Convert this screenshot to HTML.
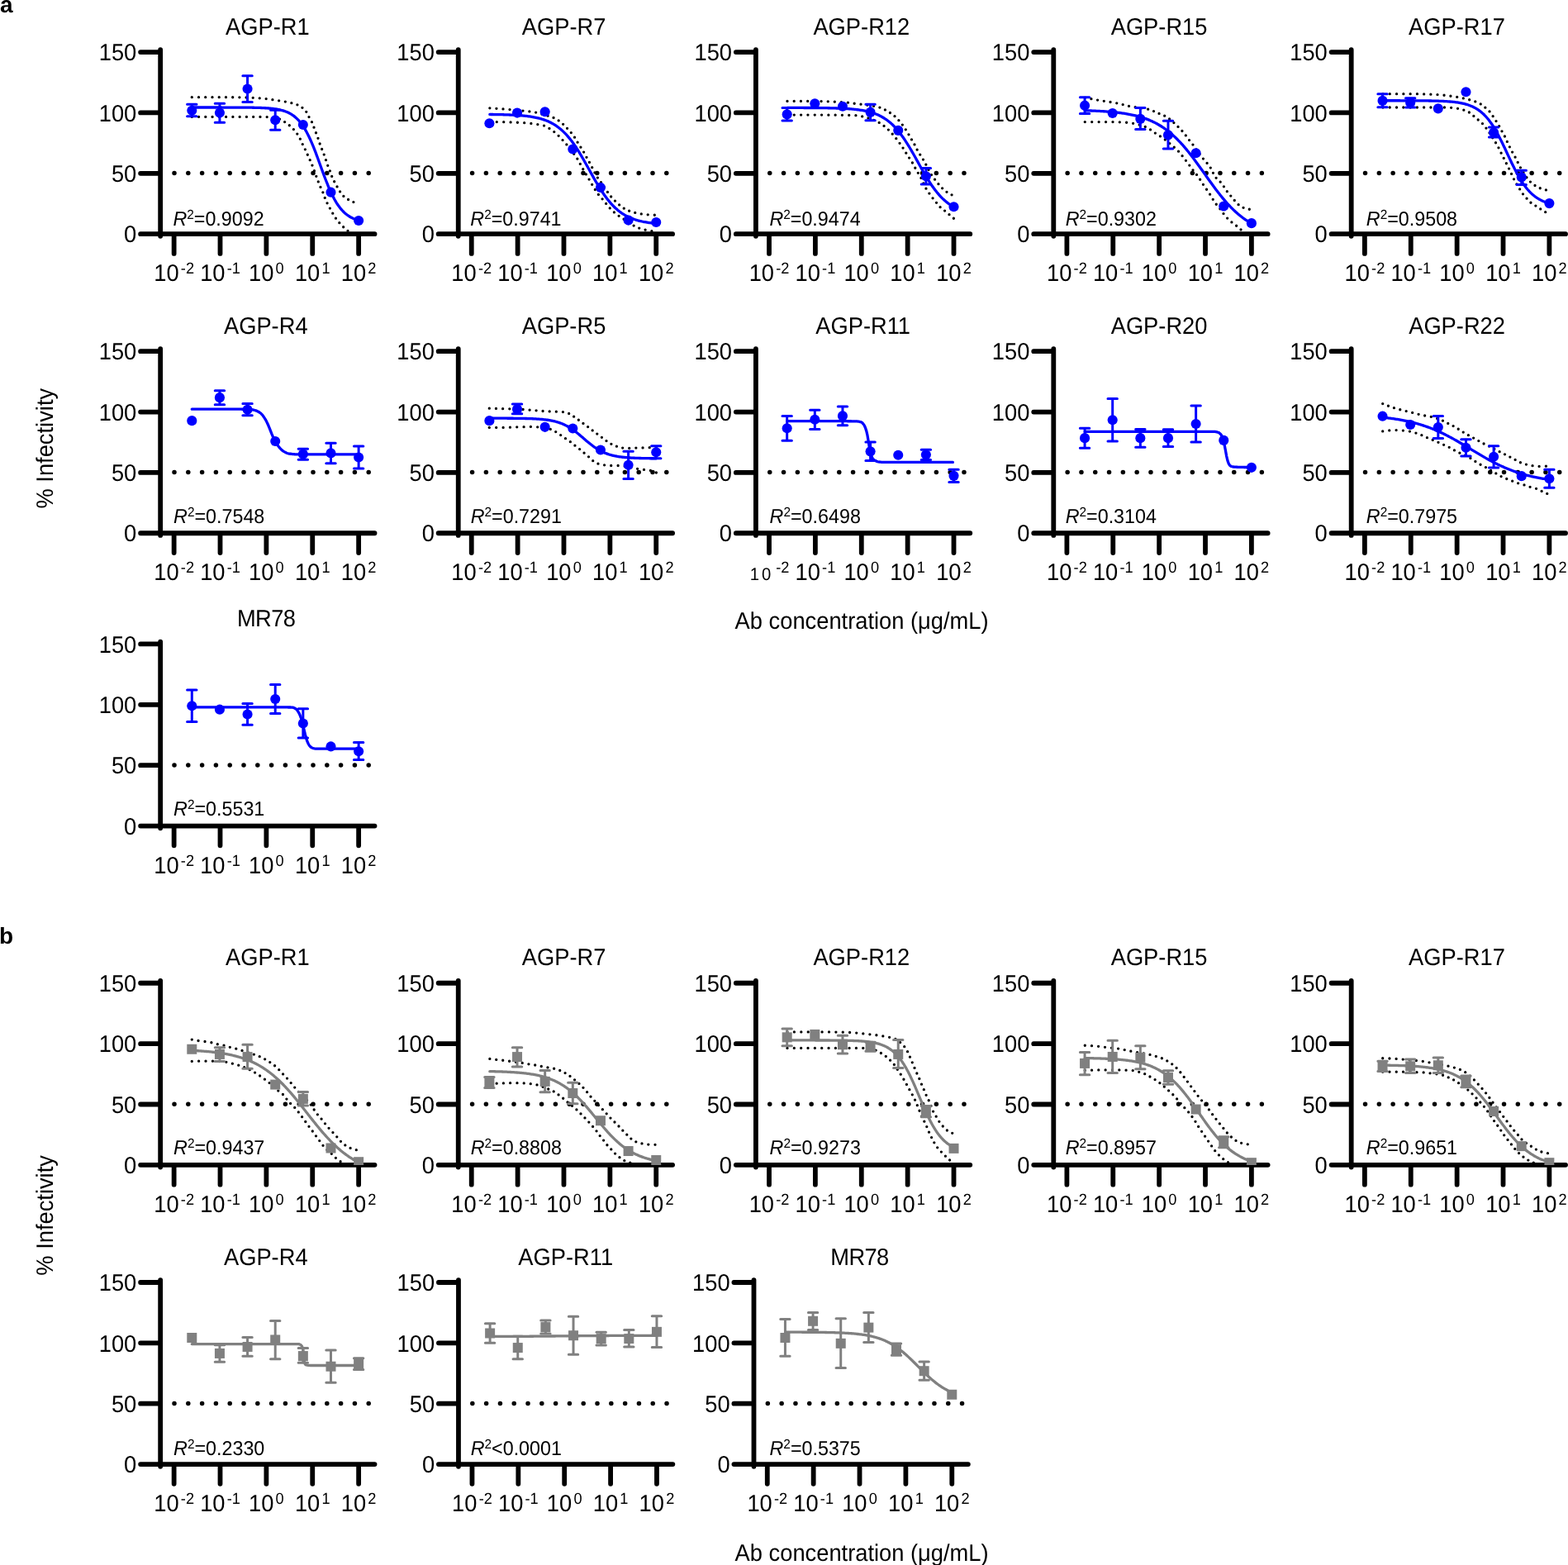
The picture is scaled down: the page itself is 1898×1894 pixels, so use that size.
<!DOCTYPE html>
<html lang="en">
<head>
<meta charset="utf-8">
<title>Neutralization curves</title>
<style>html,body{margin:0;padding:0;background:#fff}body{width:1898px;height:1894px;overflow:hidden}svg{display:block}text{font-family:'Liberation Sans', Arial, Helvetica, sans-serif;white-space:pre;text-rendering:geometricPrecision}</style>
</head>
<body>
<svg xmlns="http://www.w3.org/2000/svg" width="1898" height="1894" viewBox="0 0 1898 1894" font-family="'Liberation Sans', Arial, Helvetica, sans-serif" fill="#000">
<rect width="1898" height="1894" fill="#fff"/>
<defs>
<clipPath id="cp0_0"><rect x="194.16" y="53.17" width="280" height="230.1"/></clipPath>
<clipPath id="cp1_0"><rect x="554.74" y="53.17" width="280" height="230.1"/></clipPath>
<clipPath id="cp2_0"><rect x="914.92" y="53.17" width="280" height="230.1"/></clipPath>
<clipPath id="cp3_0"><rect x="1275.3" y="53.17" width="280" height="230.1"/></clipPath>
<clipPath id="cp4_0"><rect x="1635.68" y="53.17" width="280" height="230.1"/></clipPath>
<clipPath id="cp0_1"><rect x="194.16" y="415.26" width="280" height="230.1"/></clipPath>
<clipPath id="cp1_1"><rect x="554.74" y="415.26" width="280" height="230.1"/></clipPath>
<clipPath id="cp2_1"><rect x="914.92" y="415.26" width="280" height="230.1"/></clipPath>
<clipPath id="cp3_1"><rect x="1275.3" y="415.26" width="280" height="230.1"/></clipPath>
<clipPath id="cp4_1"><rect x="1635.68" y="415.26" width="280" height="230.1"/></clipPath>
<clipPath id="cp0_2"><rect x="194.16" y="769.56" width="280" height="230.1"/></clipPath>
<clipPath id="cp0_3"><rect x="194.16" y="1179.87" width="280" height="230.1"/></clipPath>
<clipPath id="cp1_3"><rect x="554.74" y="1179.87" width="280" height="230.1"/></clipPath>
<clipPath id="cp2_3"><rect x="914.92" y="1179.87" width="280" height="230.1"/></clipPath>
<clipPath id="cp3_3"><rect x="1275.3" y="1179.87" width="280" height="230.1"/></clipPath>
<clipPath id="cp4_3"><rect x="1635.68" y="1179.87" width="280" height="230.1"/></clipPath>
<clipPath id="cp0_4"><rect x="194.16" y="1542.09" width="280" height="230.1"/></clipPath>
<clipPath id="cp1_4"><rect x="554.98" y="1542.09" width="280" height="230.1"/></clipPath>
<clipPath id="cp2_4"><rect x="912.5" y="1542.09" width="280" height="230.1"/></clipPath>
</defs>
<text transform="translate(0 14.95) scale(1 0.99)" font-size="28" font-weight="bold">a</text>
<text transform="translate(-1.1 1142) scale(1 0.99)" font-size="28" font-weight="bold">b</text>
<text transform="translate(63.6 542.7) rotate(-90) scale(1 1.05)" font-size="27.3" text-anchor="middle">% Infectivity</text>
<text transform="translate(63.6 1470.9) rotate(-90) scale(1 1.05)" font-size="27.3" text-anchor="middle">% Infectivity</text>
<text transform="translate(1043.1 760.9) scale(1 1.05)" font-size="27.3" text-anchor="middle">Ab concentration (μg/mL)</text>
<text transform="translate(1043.1 1888.6) scale(1 1.05)" font-size="27.3" text-anchor="middle">Ab concentration (μg/mL)</text>
<g>
<text transform="translate(323.86 41.77) scale(1 1.05)" font-size="27.3" text-anchor="middle">AGP-R1</text>
<path d="M194.16 60.17V285.87M170.1 283.17H453.53M170.1 209.8H194.16M170.1 136.44H194.16M170.1 63.07H194.16M210.63 283.17V306.94M266.5 283.17V306.94M322.38 283.17V306.94M378.25 283.17V306.94M434.13 283.17V306.94" stroke="#000" stroke-width="5.8" stroke-linecap="round" fill="none"/>
<path d="M211.01 209.5H446.71" stroke="#000" stroke-width="5.5" stroke-linecap="round" stroke-dasharray="0 16.8" fill="none"/>
<g clip-path="url(#cp0_0)">
<path d="M232.26 117.63h.01M240.5 117.63h.01M248.74 117.63h.01M256.98 117.63h.01M265.22 117.63h.01M273.46 117.66h.01M281.67 117.73h.01M289.87 117.85h.01M298.06 118.01h.01M306.2 118.29h.01M314.23 118.82h.01M322.16 119.59h.01M329.91 120.71h.01M337.65 121.87h.01M345.33 123.12h.01M352.85 124.65h.01M359.91 126.82h.01M365.94 130.37h.01M370.78 135.37h.01M374 141.59h.01M377.46 147.68h.01M380.01 154.21h.01M382.48 160.76h.01M384.97 167.31h.01M387.12 173.98h.01M389.63 180.52h.01M392.21 187.04h.01M394.48 193.67h.01M396.73 200.3h.01M399.37 206.79h.01M401.67 213.41h.01M404.66 219.74h.01M408.03 225.88h.01M411.58 231.92h.01M415.88 237.44h.01M421.56 241.52h.01M427.88 244.61h.01" stroke="#000" stroke-width="3.3" stroke-linecap="round" fill="none"/>
<path d="M232.26 141.38h.01M240.53 141.38h.01M248.8 141.38h.01M257.07 141.38h.01M265.34 141.38h.01M273.61 141.38h.01M281.88 141.38h.01M290.15 141.38h.01M298.42 141.38h.01M306.69 141.38h.01M314.96 141.38h.01M323.16 141.57h.01M331.1 142.36h.01M338.52 144.09h.01M344.61 147.62h.01M350.29 151.76h.01M355.37 156.61h.01M359.8 162.07h.01M363.35 168.14h.01M366.25 174.54h.01M369.38 180.84h.01M372.28 187.24h.01M375.2 193.64h.01M377.96 200.1h.01M380.44 206.68h.01M382.82 213.3h.01M385.27 219.89h.01M387.94 226.39h.01M390.86 232.79h.01M393.24 239.41h.01M396.05 245.85h.01M399.35 252.06h.01M402.75 258.21h.01M406.45 264.19h.01M410.81 269.7h.01M415.68 274.77h.01M421.01 279.35h.01" stroke="#000" stroke-width="3.3" stroke-linecap="round" fill="none"/>
<path d="M232.29 126.28V140.7M226.59 126.28h11.4M226.59 140.7h11.4" stroke="#0000ff" stroke-width="3" stroke-linecap="round" fill="none"/>
<circle cx="232.29" cy="133.83" r="6.05" fill="#0000ff"/>
<path d="M265.93 125.32V148.25M260.23 125.32h11.4M260.23 148.25h11.4" stroke="#0000ff" stroke-width="3" stroke-linecap="round" fill="none"/>
<circle cx="265.93" cy="136.58" r="6.05" fill="#0000ff"/>
<path d="M299.57 91.69V123.54M293.87 91.69h11.4M293.87 123.54h11.4" stroke="#0000ff" stroke-width="3" stroke-linecap="round" fill="none"/>
<circle cx="299.57" cy="107.48" r="6.05" fill="#0000ff"/>
<path d="M333.21 133.15V157.31M327.51 133.15h11.4M327.51 157.31h11.4" stroke="#0000ff" stroke-width="3" stroke-linecap="round" fill="none"/>
<circle cx="333.21" cy="145.23" r="6.05" fill="#0000ff"/>
<circle cx="366.85" cy="150.99" r="6.05" fill="#0000ff"/>
<circle cx="400.49" cy="232.67" r="6.05" fill="#0000ff"/>
<circle cx="434.13" cy="266.99" r="6.05" fill="#0000ff"/>
<path d="M232.26 130.01 L233.53 130.01 L234.8 130.01 L236.07 130.01 L237.34 130.01 L238.61 130.01 L239.87 130.02 L241.14 130.02 L242.41 130.02 L243.68 130.02 L244.95 130.02 L246.22 130.02 L247.49 130.02 L248.76 130.02 L250.03 130.02 L251.3 130.02 L252.57 130.02 L253.84 130.02 L255.1 130.02 L256.37 130.02 L257.64 130.02 L258.91 130.02 L260.18 130.02 L261.45 130.02 L262.72 130.02 L263.99 130.02 L265.26 130.02 L266.53 130.02 L267.8 130.02 L269.07 130.03 L270.33 130.03 L271.6 130.03 L272.87 130.03 L274.14 130.03 L275.41 130.03 L276.68 130.04 L277.95 130.04 L279.22 130.04 L280.49 130.04 L281.76 130.05 L283.03 130.05 L284.3 130.05 L285.56 130.06 L286.83 130.06 L288.1 130.07 L289.37 130.07 L290.64 130.08 L291.91 130.09 L293.18 130.1 L294.45 130.1 L295.72 130.11 L296.99 130.12 L298.26 130.14 L299.53 130.15 L300.79 130.16 L302.06 130.18 L303.33 130.2 L304.6 130.21 L305.87 130.24 L307.14 130.26 L308.41 130.28 L309.68 130.31 L310.95 130.34 L312.22 130.38 L313.49 130.42 L314.75 130.46 L316.02 130.51 L317.29 130.56 L318.56 130.61 L319.83 130.68 L321.1 130.75 L322.37 130.82 L323.64 130.91 L324.91 131 L326.18 131.1 L327.45 131.22 L328.72 131.34 L329.98 131.48 L331.25 131.63 L332.52 131.8 L333.79 131.99 L335.06 132.19 L336.33 132.42 L337.6 132.66 L338.87 132.94 L340.14 133.24 L341.41 133.57 L342.68 133.93 L343.95 134.33 L345.21 134.76 L346.48 135.24 L347.75 135.77 L349.02 136.35 L350.29 136.98 L351.56 137.67 L352.83 138.43 L354.1 139.26 L355.37 140.16 L356.64 141.14 L357.91 142.2 L359.18 143.36 L360.44 144.62 L361.71 145.98 L362.98 147.44 L364.25 149.03 L365.52 150.73 L366.79 152.56 L368.06 154.51 L369.33 156.59 L370.6 158.81 L371.87 161.17 L373.14 163.65 L374.41 166.27 L375.67 169.02 L376.94 171.9 L378.21 174.89 L379.48 177.99 L380.75 181.19 L382.02 184.47 L383.29 187.84 L384.56 191.26 L385.83 194.72 L387.1 198.21 L388.37 201.71 L389.63 205.2 L390.9 208.67 L392.17 212.09 L393.44 215.46 L394.71 218.76 L395.98 221.96 L397.25 225.07 L398.52 228.08 L399.79 230.96 L401.06 233.72 L402.33 236.35 L403.6 238.85 L404.86 241.22 L406.13 243.45 L407.4 245.54 L408.67 247.51 L409.94 249.35 L411.21 251.06 L412.48 252.65 L413.75 254.13 L415.02 255.5 L416.29 256.76 L417.56 257.93 L418.83 259.01 L420.09 259.99 L421.36 260.9 L422.63 261.73 L423.9 262.5 L425.17 263.19 L426.44 263.83 L427.71 264.41 L428.98 264.94 L430.25 265.43 L431.52 265.87 L432.79 266.27 L434.06 266.64" stroke="#0000ff" stroke-width="3.3" stroke-linecap="round" stroke-linejoin="round" fill="none"/>
</g>
<text transform="translate(165.26 293.37) scale(1 1.05)" font-size="27.3" text-anchor="end">0</text>
<text transform="translate(165.26 220) scale(1 1.05)" font-size="27.3" text-anchor="end">50</text>
<text transform="translate(165.26 146.64) scale(1 1.05)" font-size="27.3" text-anchor="end">100</text>
<text transform="translate(165.26 73.27) scale(1 1.05)" font-size="27.3" text-anchor="end">150</text>
<text transform="translate(186.25 340.27) scale(1 1.05)" font-size="27.3">10</text>
<text transform="translate(218.82 331.27) scale(1 1.05)" font-size="18.2">-2</text>
<text transform="translate(242.13 340.27) scale(1 1.05)" font-size="27.3">10</text>
<text transform="translate(274.7 331.27) scale(1 1.05)" font-size="18.2">-1</text>
<text transform="translate(301.03 340.27) scale(1 1.05)" font-size="27.3">10</text>
<text transform="translate(333.6 331.27) scale(1 1.05)" font-size="18.2">0</text>
<text transform="translate(356.91 340.27) scale(1 1.05)" font-size="27.3">10</text>
<text transform="translate(389.48 331.27) scale(1 1.05)" font-size="18.2">1</text>
<text transform="translate(412.78 340.27) scale(1 1.05)" font-size="27.3">10</text>
<text transform="translate(445.35 331.27) scale(1 1.05)" font-size="18.2">2</text>
<text transform="translate(209.4 272.7) scale(1 1.05)" font-size="23.3"><tspan font-style="italic">R</tspan><tspan font-size="15.4" dy="-7.5">2</tspan><tspan dy="7.5">=0.9092</tspan></text>
</g>
<g>
<text transform="translate(682.58 41.77) scale(1 1.05)" font-size="27.3" text-anchor="middle">AGP-R7</text>
<path d="M554.74 60.17V285.87M530.68 283.17H814.11M530.68 209.8H554.74M530.68 136.44H554.74M530.68 63.07H554.74M570.74 283.17V306.94M626.62 283.17V306.94M682.49 283.17V306.94M738.37 283.17V306.94M794.24 283.17V306.94" stroke="#000" stroke-width="5.8" stroke-linecap="round" fill="none"/>
<path d="M571.59 209.5H807.29" stroke="#000" stroke-width="5.5" stroke-linecap="round" stroke-dasharray="0 16.8" fill="none"/>
<g clip-path="url(#cp1_0)">
<path d="M592.85 130.81h.01M600.94 131.29h.01M608.99 131.88h.01M617.01 132.54h.01M624.99 133.27h.01M632.96 134.03h.01M640.88 134.92h.01M648.63 136.11h.01M655.9 138.06h.01M663.09 140.13h.01M670.04 142.48h.01M676.18 145.91h.01M681.65 150.32h.01M686.55 155.37h.01M691.32 160.55h.01M695.54 166.15h.01M699.1 172.22h.01M702.92 178.13h.01M706.62 184.12h.01M709.98 190.3h.01M713.45 196.43h.01M716.72 202.66h.01M719.92 208.93h.01M723.38 215.05h.01M727.5 220.76h.01M731.48 226.56h.01M735.43 232.38h.01M739.67 238h.01M744.46 243.15h.01M749.64 247.91h.01M755.25 252.16h.01M761.62 255.26h.01M768.74 257.41h.01M776.28 258.96h.01M784.2 259.84h.01M792.31 260.26h.01" stroke="#000" stroke-width="3.3" stroke-linecap="round" fill="none"/>
<path d="M592.85 147.56h.01M601.3 147.56h.01M609.72 147.66h.01M618.08 147.91h.01M626.41 148.24h.01M634.69 148.7h.01M642.85 149.44h.01M650.83 150.53h.01M658.54 152.1h.01M664.94 155.39h.01M670.79 159.57h.01M676.12 164.37h.01M681.06 169.6h.01M685.86 174.95h.01M690.41 180.51h.01M694.74 186.24h.01M698.84 192.13h.01M702.34 198.41h.01M705.75 204.73h.01M709.38 210.94h.01M713.08 217.1h.01M716.67 223.33h.01M720.34 229.5h.01M724.38 235.45h.01M729.11 240.85h.01M733.64 246.44h.01M738.23 251.97h.01M743.41 256.94h.01M749.12 261.3h.01M755.11 265.27h.01M760.93 269.48h.01M767.13 273.11h.01M773.73 276.1h.01M781.09 278.18h.01M788.88 279.62h.01" stroke="#000" stroke-width="3.3" stroke-linecap="round" fill="none"/>
<circle cx="592.4" cy="149.21" r="6.05" fill="#0000ff"/>
<circle cx="626.04" cy="136.58" r="6.05" fill="#0000ff"/>
<circle cx="659.68" cy="135.21" r="6.05" fill="#0000ff"/>
<circle cx="693.32" cy="180.51" r="6.05" fill="#0000ff"/>
<circle cx="726.96" cy="226.91" r="6.05" fill="#0000ff"/>
<circle cx="760.6" cy="266.58" r="6.05" fill="#0000ff"/>
<circle cx="794.24" cy="269.05" r="6.05" fill="#0000ff"/>
<path d="M592.85 138.46 L594.12 138.48 L595.39 138.49 L596.66 138.51 L597.92 138.53 L599.19 138.55 L600.46 138.57 L601.73 138.59 L603 138.61 L604.27 138.64 L605.54 138.66 L606.81 138.69 L608.08 138.72 L609.35 138.76 L610.62 138.79 L611.89 138.83 L613.15 138.87 L614.42 138.91 L615.69 138.96 L616.96 139.01 L618.23 139.06 L619.5 139.12 L620.77 139.18 L622.04 139.24 L623.31 139.31 L624.58 139.39 L625.85 139.46 L627.12 139.55 L628.38 139.64 L629.65 139.74 L630.92 139.84 L632.19 139.95 L633.46 140.07 L634.73 140.19 L636 140.33 L637.27 140.47 L638.54 140.63 L639.81 140.79 L641.08 140.97 L642.35 141.16 L643.61 141.36 L644.88 141.57 L646.15 141.8 L647.42 142.04 L648.69 142.3 L649.96 142.58 L651.23 142.87 L652.5 143.19 L653.77 143.52 L655.04 143.88 L656.31 144.26 L657.57 144.66 L658.84 145.09 L660.11 145.55 L661.38 146.04 L662.65 146.55 L663.92 147.1 L665.19 147.68 L666.46 148.3 L667.73 148.96 L669 149.65 L670.27 150.38 L671.54 151.16 L672.8 151.98 L674.07 152.84 L675.34 153.75 L676.61 154.72 L677.88 155.73 L679.15 156.79 L680.42 157.91 L681.69 159.09 L682.96 160.32 L684.23 161.61 L685.5 162.95 L686.77 164.36 L688.03 165.83 L689.3 167.36 L690.57 168.94 L691.84 170.59 L693.11 172.3 L694.38 174.06 L695.65 175.88 L696.92 177.76 L698.19 179.69 L699.46 181.67 L700.73 183.7 L702 185.78 L703.26 187.89 L704.53 190.05 L705.8 192.23 L707.07 194.45 L708.34 196.69 L709.61 198.95 L710.88 201.23 L712.15 203.51 L713.42 205.8 L714.69 208.09 L715.96 210.37 L717.23 212.64 L718.49 214.89 L719.76 217.12 L721.03 219.32 L722.3 221.49 L723.57 223.62 L724.84 225.72 L726.11 227.77 L727.38 229.78 L728.65 231.73 L729.92 233.64 L731.19 235.48 L732.46 237.28 L733.72 239.01 L734.99 240.69 L736.26 242.3 L737.53 243.86 L738.8 245.36 L740.07 246.79 L741.34 248.17 L742.61 249.49 L743.88 250.74 L745.15 251.95 L746.42 253.09 L747.68 254.18 L748.95 255.22 L750.22 256.21 L751.49 257.14 L752.76 258.03 L754.03 258.87 L755.3 259.67 L756.57 260.42 L757.84 261.13 L759.11 261.81 L760.38 262.44 L761.65 263.04 L762.91 263.6 L764.18 264.14 L765.45 264.64 L766.72 265.11 L767.99 265.55 L769.26 265.97 L770.53 266.36 L771.8 266.73 L773.07 267.07 L774.34 267.4 L775.61 267.7 L776.88 267.99 L778.14 268.26 L779.41 268.51 L780.68 268.74 L781.95 268.96 L783.22 269.17 L784.49 269.36 L785.76 269.54 L787.03 269.71 L788.3 269.87 L789.57 270.02 L790.84 270.16 L792.11 270.29 L793.37 270.41 L794.64 270.53" stroke="#0000ff" stroke-width="3.3" stroke-linecap="round" stroke-linejoin="round" fill="none"/>
</g>
<text transform="translate(525.84 293.37) scale(1 1.05)" font-size="27.3" text-anchor="end">0</text>
<text transform="translate(525.84 220) scale(1 1.05)" font-size="27.3" text-anchor="end">50</text>
<text transform="translate(525.84 146.64) scale(1 1.05)" font-size="27.3" text-anchor="end">100</text>
<text transform="translate(525.84 73.27) scale(1 1.05)" font-size="27.3" text-anchor="end">150</text>
<text transform="translate(546.36 340.27) scale(1 1.05)" font-size="27.3">10</text>
<text transform="translate(578.93 331.27) scale(1 1.05)" font-size="18.2">-2</text>
<text transform="translate(602.24 340.27) scale(1 1.05)" font-size="27.3">10</text>
<text transform="translate(634.81 331.27) scale(1 1.05)" font-size="18.2">-1</text>
<text transform="translate(661.14 340.27) scale(1 1.05)" font-size="27.3">10</text>
<text transform="translate(693.71 331.27) scale(1 1.05)" font-size="18.2">0</text>
<text transform="translate(717.02 340.27) scale(1 1.05)" font-size="27.3">10</text>
<text transform="translate(749.59 331.27) scale(1 1.05)" font-size="18.2">1</text>
<text transform="translate(772.89 340.27) scale(1 1.05)" font-size="27.3">10</text>
<text transform="translate(805.46 331.27) scale(1 1.05)" font-size="18.2">2</text>
<text transform="translate(569.3 272.5) scale(1 1.05)" font-size="23.3"><tspan font-style="italic">R</tspan><tspan font-size="15.4" dy="-7.5">2</tspan><tspan dy="7.5">=0.9741</tspan></text>
</g>
<g>
<text transform="translate(1042.81 41.77) scale(1 1.05)" font-size="27.3" text-anchor="middle">AGP-R12</text>
<path d="M914.92 60.17V285.87M890.86 283.17H1174.29M890.86 209.8H914.92M890.86 136.44H914.92M890.86 63.07H914.92M931.02 283.17V306.94M986.89 283.17V306.94M1042.77 283.17V306.94M1098.64 283.17V306.94M1154.52 283.17V306.94" stroke="#000" stroke-width="5.8" stroke-linecap="round" fill="none"/>
<path d="M931.77 209.5H1167.47" stroke="#000" stroke-width="5.5" stroke-linecap="round" stroke-dasharray="0 16.8" fill="none"/>
<g clip-path="url(#cp2_0)">
<path d="M952.99 122.44h.01M961.21 122.44h.01M969.44 122.44h.01M977.67 122.44h.01M985.89 122.47h.01M994.09 122.56h.01M1002.23 122.81h.01M1010.31 123.19h.01M1018.38 123.63h.01M1026.39 124.2h.01M1034.16 125.26h.01M1042.01 126.17h.01M1049.79 127.21h.01M1057.47 128.44h.01M1064.89 130.11h.01M1071.4 132.91h.01M1077.4 136.51h.01M1082.99 140.71h.01M1087.9 145.69h.01M1092.34 151.09h.01M1096.3 156.86h.01M1099.95 162.83h.01M1103.47 168.88h.01M1106.99 174.92h.01M1110.13 181.17h.01M1113.75 187.16h.01M1117.44 193.1h.01M1120.83 199.22h.01M1123.95 205.49h.01M1127.47 211.53h.01M1131.56 217.2h.01M1135.93 222.67h.01M1140.63 227.85h.01M1145.97 232.35h.01M1152.04 235.83h.01" stroke="#000" stroke-width="3.3" stroke-linecap="round" fill="none"/>
<path d="M952.99 139.05h.01M961.3 139.05h.01M969.62 139.05h.01M977.93 139.05h.01M986.25 139.05h.01M994.56 139.07h.01M1002.86 139.13h.01M1011.14 139.21h.01M1019.42 139.32h.01M1027.7 139.44h.01M1035.92 139.69h.01M1043.68 140.9h.01M1050.95 142.91h.01M1057.77 145.47h.01M1064.2 148.47h.01M1070.05 152.44h.01M1075.36 157.11h.01M1080.24 162.22h.01M1084.79 167.63h.01M1089.03 173.29h.01M1093.03 179.12h.01M1096.77 185.13h.01M1100.57 191.09h.01M1104.41 197.02h.01M1107.8 203.23h.01M1111.3 209.37h.01M1114.95 215.42h.01M1117.86 221.87h.01M1120.95 228.22h.01M1124.89 234.09h.01M1129.06 239.8h.01M1133.52 245.29h.01M1138.08 250.69h.01M1143.57 255.11h.01M1149 259.64h.01M1154.37 264.25h.01" stroke="#000" stroke-width="3.3" stroke-linecap="round" fill="none"/>
<path d="M952.68 130.54V145.91M946.98 130.54h11.4M946.98 145.91h11.4" stroke="#0000ff" stroke-width="3" stroke-linecap="round" fill="none"/>
<circle cx="952.68" cy="138.36" r="6.05" fill="#0000ff"/>
<circle cx="986.32" cy="125.18" r="6.05" fill="#0000ff"/>
<circle cx="1019.96" cy="128.75" r="6.05" fill="#0000ff"/>
<path d="M1053.6 126.28V145.78M1047.9 126.28h11.4M1047.9 145.78h11.4" stroke="#0000ff" stroke-width="3" stroke-linecap="round" fill="none"/>
<circle cx="1053.6" cy="135.89" r="6.05" fill="#0000ff"/>
<circle cx="1087.24" cy="157.86" r="6.05" fill="#0000ff"/>
<path d="M1120.88 203.43V223.06M1115.18 203.43h11.4M1115.18 223.06h11.4" stroke="#0000ff" stroke-width="3" stroke-linecap="round" fill="none"/>
<circle cx="1120.88" cy="213.18" r="6.05" fill="#0000ff"/>
<circle cx="1154.52" cy="250.24" r="6.05" fill="#0000ff"/>
<path d="M952.99 130.43 L954.25 130.43 L955.52 130.43 L956.79 130.44 L958.06 130.44 L959.33 130.44 L960.6 130.44 L961.87 130.44 L963.14 130.45 L964.41 130.45 L965.68 130.45 L966.95 130.46 L968.22 130.46 L969.48 130.46 L970.75 130.47 L972.02 130.47 L973.29 130.48 L974.56 130.48 L975.83 130.49 L977.1 130.49 L978.37 130.5 L979.64 130.5 L980.91 130.51 L982.18 130.52 L983.44 130.53 L984.71 130.53 L985.98 130.54 L987.25 130.55 L988.52 130.56 L989.79 130.58 L991.06 130.59 L992.33 130.6 L993.6 130.61 L994.87 130.63 L996.14 130.65 L997.41 130.66 L998.67 130.68 L999.94 130.7 L1001.21 130.72 L1002.48 130.74 L1003.75 130.77 L1005.02 130.79 L1006.29 130.82 L1007.56 130.85 L1008.83 130.88 L1010.1 130.92 L1011.37 130.95 L1012.64 130.99 L1013.9 131.04 L1015.17 131.08 L1016.44 131.13 L1017.71 131.18 L1018.98 131.24 L1020.25 131.3 L1021.52 131.36 L1022.79 131.43 L1024.06 131.5 L1025.33 131.58 L1026.6 131.66 L1027.87 131.75 L1029.13 131.85 L1030.4 131.95 L1031.67 132.06 L1032.94 132.18 L1034.21 132.31 L1035.48 132.44 L1036.75 132.59 L1038.02 132.74 L1039.29 132.91 L1040.56 133.08 L1041.83 133.27 L1043.1 133.47 L1044.36 133.69 L1045.63 133.92 L1046.9 134.17 L1048.17 134.43 L1049.44 134.71 L1050.71 135.01 L1051.98 135.33 L1053.25 135.68 L1054.52 136.04 L1055.79 136.43 L1057.06 136.84 L1058.33 137.28 L1059.59 137.75 L1060.86 138.25 L1062.13 138.78 L1063.4 139.35 L1064.67 139.95 L1065.94 140.58 L1067.21 141.26 L1068.48 141.97 L1069.75 142.73 L1071.02 143.53 L1072.29 144.38 L1073.55 145.27 L1074.82 146.22 L1076.09 147.22 L1077.36 148.27 L1078.63 149.37 L1079.9 150.53 L1081.17 151.75 L1082.44 153.02 L1083.71 154.36 L1084.98 155.76 L1086.25 157.21 L1087.52 158.73 L1088.78 160.31 L1090.05 161.95 L1091.32 163.65 L1092.59 165.42 L1093.86 167.23 L1095.13 169.11 L1096.4 171.04 L1097.67 173.02 L1098.94 175.05 L1100.21 177.13 L1101.48 179.24 L1102.75 181.4 L1104.01 183.59 L1105.28 185.8 L1106.55 188.05 L1107.82 190.31 L1109.09 192.58 L1110.36 194.86 L1111.63 197.14 L1112.9 199.43 L1114.17 201.7 L1115.44 203.96 L1116.71 206.19 L1117.98 208.41 L1119.24 210.59 L1120.51 212.74 L1121.78 214.85 L1123.05 216.92 L1124.32 218.95 L1125.59 220.92 L1126.86 222.84 L1128.13 224.71 L1129.4 226.52 L1130.67 228.28 L1131.94 229.97 L1133.21 231.6 L1134.47 233.17 L1135.74 234.68 L1137.01 236.13 L1138.28 237.52 L1139.55 238.85 L1140.82 240.12 L1142.09 241.33 L1143.36 242.48 L1144.63 243.58 L1145.9 244.62 L1147.17 245.61 L1148.44 246.55 L1149.7 247.43 L1150.97 248.28 L1152.24 249.07 L1153.51 249.82 L1154.78 250.53" stroke="#0000ff" stroke-width="3.3" stroke-linecap="round" stroke-linejoin="round" fill="none"/>
</g>
<text transform="translate(886.02 293.37) scale(1 1.05)" font-size="27.3" text-anchor="end">0</text>
<text transform="translate(886.02 220) scale(1 1.05)" font-size="27.3" text-anchor="end">50</text>
<text transform="translate(886.02 146.64) scale(1 1.05)" font-size="27.3" text-anchor="end">100</text>
<text transform="translate(886.02 73.27) scale(1 1.05)" font-size="27.3" text-anchor="end">150</text>
<text transform="translate(906.64 340.27) scale(1 1.05)" font-size="27.3">10</text>
<text transform="translate(939.21 331.27) scale(1 1.05)" font-size="18.2">-2</text>
<text transform="translate(962.52 340.27) scale(1 1.05)" font-size="27.3">10</text>
<text transform="translate(995.09 331.27) scale(1 1.05)" font-size="18.2">-1</text>
<text transform="translate(1021.42 340.27) scale(1 1.05)" font-size="27.3">10</text>
<text transform="translate(1053.99 331.27) scale(1 1.05)" font-size="18.2">0</text>
<text transform="translate(1077.3 340.27) scale(1 1.05)" font-size="27.3">10</text>
<text transform="translate(1109.87 331.27) scale(1 1.05)" font-size="18.2">1</text>
<text transform="translate(1133.17 340.27) scale(1 1.05)" font-size="27.3">10</text>
<text transform="translate(1165.74 331.27) scale(1 1.05)" font-size="18.2">2</text>
<text transform="translate(931.4 272.7) scale(1 1.05)" font-size="23.3"><tspan font-style="italic">R</tspan><tspan font-size="15.4" dy="-7.5">2</tspan><tspan dy="7.5">=0.9474</tspan></text>
</g>
<g>
<text transform="translate(1403.08 41.77) scale(1 1.05)" font-size="27.3" text-anchor="middle">AGP-R15</text>
<path d="M1275.3 60.17V285.87M1251.24 283.17H1534.67M1251.24 209.8H1275.3M1251.24 136.44H1275.3M1251.24 63.07H1275.3M1291.4 283.17V306.94M1347.27 283.17V306.94M1403.15 283.17V306.94M1459.02 283.17V306.94M1514.9 283.17V306.94" stroke="#000" stroke-width="5.8" stroke-linecap="round" fill="none"/>
<path d="M1292.15 209.5H1527.85" stroke="#000" stroke-width="5.5" stroke-linecap="round" stroke-dasharray="0 16.8" fill="none"/>
<g clip-path="url(#cp3_0)">
<path d="M1313.26 118.32h.01M1320.9 119.71h.01M1328.54 121.12h.01M1336.27 122.34h.01M1344.03 123.52h.01M1351.75 124.79h.01M1359.16 126.54h.01M1366.48 128.42h.01M1374.19 129.7h.01M1382 130.77h.01M1389.64 132.18h.01M1396.5 134.62h.01M1403.03 137.45h.01M1409.68 140.17h.01M1415.57 144.01h.01M1420.9 148.6h.01M1426.01 153.44h.01M1430.91 158.5h.01M1435.32 163.97h.01M1439.54 169.6h.01M1443.93 175.1h.01M1448.02 180.83h.01M1452.1 186.57h.01M1456.44 192.1h.01M1461.07 197.4h.01M1465.3 203.03h.01M1468.44 209.32h.01M1472.1 215.3h.01M1477.17 220.17h.01M1481.41 225.79h.01M1485.3 231.65h.01M1489.78 237.08h.01M1494.28 242.49h.01M1499.09 247.63h.01M1505.06 251.33h.01M1512.31 253.26h.01" stroke="#000" stroke-width="3.3" stroke-linecap="round" fill="none"/>
<path d="M1313.26 147.56h.01M1321.69 147.56h.01M1330.13 147.56h.01M1338.56 147.56h.01M1346.99 147.56h.01M1355.32 147.84h.01M1363.6 148.26h.01M1371.58 149.32h.01M1379.16 151.06h.01M1386.27 153.42h.01M1392.52 156.93h.01M1398.36 161.09h.01M1404.41 164.94h.01M1410.3 169.02h.01M1415.81 173.6h.01M1421.27 178.26h.01M1426.52 183.13h.01M1431.1 188.63h.01M1435.44 194.34h.01M1439.81 200.03h.01M1444 205.85h.01M1448.51 211.42h.01M1452.64 217.27h.01M1456.44 223.36h.01M1460.54 229.23h.01M1464.59 235.15h.01M1468.24 241.32h.01M1472.26 247.26h.01M1476.88 252.73h.01M1481 258.6h.01M1485.65 264.06h.01M1490.89 268.94h.01M1496.62 273.25h.01M1502.01 277.97h.01" stroke="#000" stroke-width="3.3" stroke-linecap="round" fill="none"/>
<path d="M1313.06 117.77V137.54M1307.36 117.77h11.4M1307.36 137.54h11.4" stroke="#0000ff" stroke-width="3" stroke-linecap="round" fill="none"/>
<circle cx="1313.06" cy="127.66" r="6.05" fill="#0000ff"/>
<circle cx="1346.7" cy="136.99" r="6.05" fill="#0000ff"/>
<path d="M1380.34 130.4V156.48M1374.64 130.4h11.4M1374.64 156.48h11.4" stroke="#0000ff" stroke-width="3" stroke-linecap="round" fill="none"/>
<circle cx="1380.34" cy="143.85" r="6.05" fill="#0000ff"/>
<path d="M1413.98 146.19V180.1M1408.28 146.19h11.4M1408.28 180.1h11.4" stroke="#0000ff" stroke-width="3" stroke-linecap="round" fill="none"/>
<circle cx="1413.98" cy="163.35" r="6.05" fill="#0000ff"/>
<circle cx="1447.62" cy="185.31" r="6.05" fill="#0000ff"/>
<circle cx="1481.26" cy="249.56" r="6.05" fill="#0000ff"/>
<circle cx="1514.9" cy="270.15" r="6.05" fill="#0000ff"/>
<path d="M1313.26 133.76 L1314.53 133.8 L1315.8 133.84 L1317.07 133.88 L1318.34 133.92 L1319.61 133.97 L1320.87 134.01 L1322.14 134.06 L1323.41 134.11 L1324.68 134.16 L1325.95 134.22 L1327.22 134.28 L1328.49 134.34 L1329.76 134.4 L1331.03 134.47 L1332.3 134.54 L1333.57 134.61 L1334.84 134.69 L1336.1 134.77 L1337.37 134.85 L1338.64 134.94 L1339.91 135.03 L1341.18 135.12 L1342.45 135.22 L1343.72 135.33 L1344.99 135.44 L1346.26 135.55 L1347.53 135.67 L1348.8 135.8 L1350.07 135.93 L1351.33 136.06 L1352.6 136.21 L1353.87 136.36 L1355.14 136.51 L1356.41 136.68 L1357.68 136.85 L1358.95 137.02 L1360.22 137.21 L1361.49 137.41 L1362.76 137.61 L1364.03 137.82 L1365.3 138.04 L1366.56 138.27 L1367.83 138.52 L1369.1 138.77 L1370.37 139.03 L1371.64 139.31 L1372.91 139.59 L1374.18 139.89 L1375.45 140.21 L1376.72 140.53 L1377.99 140.87 L1379.26 141.23 L1380.53 141.59 L1381.79 141.98 L1383.06 142.38 L1384.33 142.8 L1385.6 143.23 L1386.87 143.68 L1388.14 144.15 L1389.41 144.64 L1390.68 145.15 L1391.95 145.68 L1393.22 146.23 L1394.49 146.8 L1395.75 147.4 L1397.02 148.01 L1398.29 148.65 L1399.56 149.32 L1400.83 150.01 L1402.1 150.72 L1403.37 151.46 L1404.64 152.23 L1405.91 153.02 L1407.18 153.84 L1408.45 154.69 L1409.72 155.57 L1410.98 156.48 L1412.25 157.42 L1413.52 158.39 L1414.79 159.38 L1416.06 160.41 L1417.33 161.48 L1418.6 162.57 L1419.87 163.69 L1421.14 164.85 L1422.41 166.03 L1423.68 167.25 L1424.95 168.51 L1426.21 169.79 L1427.48 171.1 L1428.75 172.45 L1430.02 173.83 L1431.29 175.23 L1432.56 176.67 L1433.83 178.14 L1435.1 179.63 L1436.37 181.16 L1437.64 182.71 L1438.91 184.28 L1440.18 185.88 L1441.44 187.5 L1442.71 189.15 L1443.98 190.82 L1445.25 192.51 L1446.52 194.21 L1447.79 195.93 L1449.06 197.67 L1450.33 199.42 L1451.6 201.18 L1452.87 202.95 L1454.14 204.73 L1455.41 206.51 L1456.67 208.3 L1457.94 210.09 L1459.21 211.89 L1460.48 213.68 L1461.75 215.46 L1463.02 217.24 L1464.29 219.02 L1465.56 220.78 L1466.83 222.53 L1468.1 224.27 L1469.37 226 L1470.63 227.71 L1471.9 229.4 L1473.17 231.08 L1474.44 232.73 L1475.71 234.36 L1476.98 235.97 L1478.25 237.55 L1479.52 239.11 L1480.79 240.64 L1482.06 242.14 L1483.33 243.62 L1484.6 245.07 L1485.86 246.48 L1487.13 247.87 L1488.4 249.22 L1489.67 250.55 L1490.94 251.84 L1492.21 253.1 L1493.48 254.33 L1494.75 255.53 L1496.02 256.69 L1497.29 257.83 L1498.56 258.93 L1499.83 260 L1501.09 261.04 L1502.36 262.05 L1503.63 263.02 L1504.9 263.97 L1506.17 264.89 L1507.44 265.78 L1508.71 266.63 L1509.98 267.46 L1511.25 268.27 L1512.52 269.04 L1513.79 269.79 L1515.06 270.51" stroke="#0000ff" stroke-width="3.3" stroke-linecap="round" stroke-linejoin="round" fill="none"/>
</g>
<text transform="translate(1246.4 293.37) scale(1 1.05)" font-size="27.3" text-anchor="end">0</text>
<text transform="translate(1246.4 220) scale(1 1.05)" font-size="27.3" text-anchor="end">50</text>
<text transform="translate(1246.4 146.64) scale(1 1.05)" font-size="27.3" text-anchor="end">100</text>
<text transform="translate(1246.4 73.27) scale(1 1.05)" font-size="27.3" text-anchor="end">150</text>
<text transform="translate(1267.02 340.27) scale(1 1.05)" font-size="27.3">10</text>
<text transform="translate(1299.59 331.27) scale(1 1.05)" font-size="18.2">-2</text>
<text transform="translate(1322.9 340.27) scale(1 1.05)" font-size="27.3">10</text>
<text transform="translate(1355.47 331.27) scale(1 1.05)" font-size="18.2">-1</text>
<text transform="translate(1381.8 340.27) scale(1 1.05)" font-size="27.3">10</text>
<text transform="translate(1414.37 331.27) scale(1 1.05)" font-size="18.2">0</text>
<text transform="translate(1437.68 340.27) scale(1 1.05)" font-size="27.3">10</text>
<text transform="translate(1470.25 331.27) scale(1 1.05)" font-size="18.2">1</text>
<text transform="translate(1493.55 340.27) scale(1 1.05)" font-size="27.3">10</text>
<text transform="translate(1526.12 331.27) scale(1 1.05)" font-size="18.2">2</text>
<text transform="translate(1289.7 272.76) scale(1 1.05)" font-size="23.3"><tspan font-style="italic">R</tspan><tspan font-size="15.4" dy="-7.5">2</tspan><tspan dy="7.5">=0.9302</tspan></text>
</g>
<g>
<text transform="translate(1763.52 41.77) scale(1 1.05)" font-size="27.3" text-anchor="middle">AGP-R17</text>
<path d="M1635.68 60.17V285.87M1611.62 283.17H1895.05M1611.62 209.8H1635.68M1611.62 136.44H1635.68M1611.62 63.07H1635.68M1651.88 283.17V306.94M1707.76 283.17V306.94M1763.63 283.17V306.94M1819.51 283.17V306.94M1875.38 283.17V306.94" stroke="#000" stroke-width="5.8" stroke-linecap="round" fill="none"/>
<path d="M1652.53 209.5H1888.23" stroke="#000" stroke-width="5.5" stroke-linecap="round" stroke-dasharray="0 16.8" fill="none"/>
<g clip-path="url(#cp4_0)">
<path d="M1673.97 113.65h.01M1682.26 113.65h.01M1690.56 113.65h.01M1698.86 113.65h.01M1707.15 113.65h.01M1715.45 113.65h.01M1723.65 113.92h.01M1731.84 114.2h.01M1739.99 114.6h.01M1748.03 115.25h.01M1755.9 116.24h.01M1763.71 117.38h.01M1771.3 118.88h.01M1778.64 120.77h.01M1785.78 122.93h.01M1792.25 125.89h.01M1797.84 130.19h.01M1803.02 134.96h.01M1807.12 140.69h.01M1810.99 146.59h.01M1814.69 152.6h.01M1817.99 158.83h.01M1821.4 165h.01M1824.34 171.41h.01M1827.38 177.78h.01M1830.61 184.05h.01M1834.07 190.2h.01M1837.2 196.52h.01M1840.44 202.78h.01M1844.05 208.84h.01M1847.91 214.75h.01M1852.47 220.12h.01M1857.99 224.49h.01M1864.24 227.77h.01M1871.37 229.93h.01" stroke="#000" stroke-width="3.3" stroke-linecap="round" fill="none"/>
<path d="M1673.97 129.99h.01M1682.25 129.99h.01M1690.53 129.99h.01M1698.81 129.99h.01M1707.08 129.99h.01M1715.36 129.99h.01M1723.64 129.99h.01M1731.92 129.99h.01M1740.2 129.99h.01M1748.48 129.99h.01M1756.63 130.34h.01M1764.51 131.28h.01M1771.82 133.18h.01M1778.39 135.99h.01M1783.85 140.39h.01M1789.2 144.98h.01M1794.48 149.62h.01M1798.94 155.07h.01M1802.96 160.84h.01M1806.76 166.77h.01M1810.49 172.74h.01M1813.96 178.86h.01M1817.08 185.18h.01M1820.23 191.47h.01M1823.37 197.77h.01M1826.58 204.04h.01M1829.56 210.41h.01M1832.53 216.8h.01M1835.94 222.96h.01M1839.62 228.96h.01M1843.48 234.84h.01M1848.05 240.19h.01M1852.95 245.24h.01M1858.86 249.05h.01M1864.72 252.96h.01M1870.68 256.7h.01" stroke="#000" stroke-width="3.3" stroke-linecap="round" fill="none"/>
<path d="M1673.54 113.65V129.72M1667.84 113.65h11.4M1667.84 129.72h11.4" stroke="#0000ff" stroke-width="3" stroke-linecap="round" fill="none"/>
<circle cx="1673.54" cy="121.89" r="6.05" fill="#0000ff"/>
<path d="M1707.18 118.73V129.99M1701.48 118.73h11.4M1701.48 129.99h11.4" stroke="#0000ff" stroke-width="3" stroke-linecap="round" fill="none"/>
<circle cx="1707.18" cy="124.22" r="6.05" fill="#0000ff"/>
<circle cx="1740.82" cy="131.36" r="6.05" fill="#0000ff"/>
<circle cx="1774.46" cy="111.18" r="6.05" fill="#0000ff"/>
<path d="M1808.1 154.01V166.09M1802.4 154.01h11.4M1802.4 166.09h11.4" stroke="#0000ff" stroke-width="3" stroke-linecap="round" fill="none"/>
<circle cx="1808.1" cy="160.19" r="6.05" fill="#0000ff"/>
<path d="M1841.74 206.31V223.47M1836.04 206.31h11.4M1836.04 223.47h11.4" stroke="#0000ff" stroke-width="3" stroke-linecap="round" fill="none"/>
<circle cx="1841.74" cy="214.41" r="6.05" fill="#0000ff"/>
<circle cx="1875.38" cy="246.12" r="6.05" fill="#0000ff"/>
<path d="M1673.97 121.76 L1675.23 121.76 L1676.5 121.76 L1677.77 121.76 L1679.04 121.76 L1680.3 121.76 L1681.57 121.76 L1682.84 121.76 L1684.11 121.76 L1685.37 121.76 L1686.64 121.76 L1687.91 121.77 L1689.18 121.77 L1690.44 121.77 L1691.71 121.77 L1692.98 121.77 L1694.25 121.77 L1695.51 121.78 L1696.78 121.78 L1698.05 121.78 L1699.31 121.78 L1700.58 121.78 L1701.85 121.79 L1703.12 121.79 L1704.38 121.79 L1705.65 121.8 L1706.92 121.8 L1708.19 121.81 L1709.45 121.81 L1710.72 121.82 L1711.99 121.82 L1713.26 121.83 L1714.52 121.84 L1715.79 121.84 L1717.06 121.85 L1718.33 121.86 L1719.59 121.87 L1720.86 121.88 L1722.13 121.89 L1723.4 121.9 L1724.66 121.92 L1725.93 121.93 L1727.2 121.95 L1728.47 121.96 L1729.73 121.98 L1731 122 L1732.27 122.02 L1733.54 122.05 L1734.8 122.07 L1736.07 122.1 L1737.34 122.13 L1738.61 122.17 L1739.87 122.2 L1741.14 122.24 L1742.41 122.29 L1743.67 122.33 L1744.94 122.38 L1746.21 122.44 L1747.48 122.5 L1748.74 122.57 L1750.01 122.64 L1751.28 122.71 L1752.55 122.8 L1753.81 122.89 L1755.08 122.99 L1756.35 123.1 L1757.62 123.21 L1758.88 123.34 L1760.15 123.48 L1761.42 123.63 L1762.69 123.79 L1763.95 123.97 L1765.22 124.16 L1766.49 124.37 L1767.76 124.6 L1769.02 124.84 L1770.29 125.1 L1771.56 125.39 L1772.83 125.7 L1774.09 126.04 L1775.36 126.4 L1776.63 126.8 L1777.9 127.22 L1779.16 127.68 L1780.43 128.18 L1781.7 128.72 L1782.97 129.3 L1784.23 129.92 L1785.5 130.59 L1786.77 131.31 L1788.03 132.08 L1789.3 132.92 L1790.57 133.81 L1791.84 134.76 L1793.1 135.79 L1794.37 136.88 L1795.64 138.04 L1796.91 139.28 L1798.17 140.6 L1799.44 142 L1800.71 143.48 L1801.98 145.05 L1803.24 146.71 L1804.51 148.45 L1805.78 150.28 L1807.05 152.2 L1808.31 154.21 L1809.58 156.3 L1810.85 158.47 L1812.12 160.73 L1813.38 163.06 L1814.65 165.46 L1815.92 167.93 L1817.19 170.46 L1818.45 173.04 L1819.72 175.67 L1820.99 178.33 L1822.26 181.01 L1823.52 183.72 L1824.79 186.43 L1826.06 189.15 L1827.33 191.85 L1828.59 194.53 L1829.86 197.18 L1831.13 199.79 L1832.39 202.35 L1833.66 204.87 L1834.93 207.31 L1836.2 209.7 L1837.46 212 L1838.73 214.24 L1840 216.39 L1841.27 218.45 L1842.53 220.43 L1843.8 222.32 L1845.07 224.13 L1846.34 225.84 L1847.6 227.47 L1848.87 229.01 L1850.14 230.47 L1851.41 231.84 L1852.67 233.14 L1853.94 234.36 L1855.21 235.5 L1856.48 236.57 L1857.74 237.57 L1859.01 238.5 L1860.28 239.38 L1861.55 240.19 L1862.81 240.95 L1864.08 241.65 L1865.35 242.31 L1866.62 242.92 L1867.88 243.48 L1869.15 244.01 L1870.42 244.49 L1871.69 244.94 L1872.95 245.36 L1874.22 245.74 L1875.49 246.1" stroke="#0000ff" stroke-width="3.3" stroke-linecap="round" stroke-linejoin="round" fill="none"/>
</g>
<text transform="translate(1606.78 293.37) scale(1 1.05)" font-size="27.3" text-anchor="end">0</text>
<text transform="translate(1606.78 220) scale(1 1.05)" font-size="27.3" text-anchor="end">50</text>
<text transform="translate(1606.78 146.64) scale(1 1.05)" font-size="27.3" text-anchor="end">100</text>
<text transform="translate(1606.78 73.27) scale(1 1.05)" font-size="27.3" text-anchor="end">150</text>
<text transform="translate(1627.5 340.27) scale(1 1.05)" font-size="27.3">10</text>
<text transform="translate(1660.07 331.27) scale(1 1.05)" font-size="18.2">-2</text>
<text transform="translate(1683.38 340.27) scale(1 1.05)" font-size="27.3">10</text>
<text transform="translate(1715.95 331.27) scale(1 1.05)" font-size="18.2">-1</text>
<text transform="translate(1742.28 340.27) scale(1 1.05)" font-size="27.3">10</text>
<text transform="translate(1774.85 331.27) scale(1 1.05)" font-size="18.2">0</text>
<text transform="translate(1798.16 340.27) scale(1 1.05)" font-size="27.3">10</text>
<text transform="translate(1830.73 331.27) scale(1 1.05)" font-size="18.2">1</text>
<text transform="translate(1854.03 340.27) scale(1 1.05)" font-size="27.3">10</text>
<text transform="translate(1886.6 331.27) scale(1 1.05)" font-size="18.2">2</text>
<text transform="translate(1653.8 272.76) scale(1 1.05)" font-size="23.3"><tspan font-style="italic">R</tspan><tspan font-size="15.4" dy="-7.5">2</tspan><tspan dy="7.5">=0.9508</tspan></text>
</g>
<g>
<text transform="translate(321.79 403.86) scale(1 1.05)" font-size="27.3" text-anchor="middle">AGP-R4</text>
<path d="M194.16 422.26V647.96M170.1 645.26H453.53M170.1 571.89H194.16M170.1 498.53H194.16M170.1 425.16H194.16M210.63 645.26V669.03M266.5 645.26V669.03M322.38 645.26V669.03M378.25 645.26V669.03M434.13 645.26V669.03" stroke="#000" stroke-width="5.8" stroke-linecap="round" fill="none"/>
<path d="M211.01 571.59H446.71" stroke="#000" stroke-width="5.5" stroke-linecap="round" stroke-dasharray="0 16.8" fill="none"/>
<g clip-path="url(#cp0_1)">
<circle cx="232.29" cy="509.15" r="6.05" fill="#0000ff"/>
<path d="M265.93 472.77V489.66M260.23 472.77h11.4M260.23 489.66h11.4" stroke="#0000ff" stroke-width="3" stroke-linecap="round" fill="none"/>
<circle cx="265.93" cy="481.14" r="6.05" fill="#0000ff"/>
<path d="M299.57 488.56V502.7M293.87 488.56h11.4M293.87 502.7h11.4" stroke="#0000ff" stroke-width="3" stroke-linecap="round" fill="none"/>
<circle cx="299.57" cy="495.83" r="6.05" fill="#0000ff"/>
<circle cx="333.21" cy="534" r="6.05" fill="#0000ff"/>
<path d="M366.85 543.19V556.23M361.15 543.19h11.4M361.15 556.23h11.4" stroke="#0000ff" stroke-width="3" stroke-linecap="round" fill="none"/>
<circle cx="366.85" cy="549.65" r="6.05" fill="#0000ff"/>
<path d="M400.49 536.33V560.63M394.79 536.33h11.4M394.79 560.63h11.4" stroke="#0000ff" stroke-width="3" stroke-linecap="round" fill="none"/>
<circle cx="400.49" cy="548.41" r="6.05" fill="#0000ff"/>
<path d="M434.13 540.04V566.94M428.43 540.04h11.4M428.43 566.94h11.4" stroke="#0000ff" stroke-width="3" stroke-linecap="round" fill="none"/>
<circle cx="434.13" cy="553.49" r="6.05" fill="#0000ff"/>
<path d="M232.26 495.15 L233.53 495.15 L234.8 495.15 L236.07 495.15 L237.34 495.15 L238.61 495.15 L239.87 495.15 L241.14 495.15 L242.41 495.15 L243.68 495.15 L244.95 495.15 L246.22 495.15 L247.49 495.15 L248.76 495.15 L250.03 495.15 L251.3 495.15 L252.57 495.15 L253.84 495.15 L255.1 495.15 L256.37 495.15 L257.64 495.15 L258.91 495.15 L260.18 495.15 L261.45 495.15 L262.72 495.15 L263.99 495.15 L265.26 495.15 L266.53 495.15 L267.8 495.15 L269.07 495.15 L270.33 495.15 L271.6 495.15 L272.87 495.15 L274.14 495.15 L275.41 495.15 L276.68 495.16 L277.95 495.16 L279.22 495.16 L280.49 495.17 L281.76 495.17 L283.03 495.17 L284.3 495.18 L285.56 495.19 L286.83 495.19 L288.1 495.2 L289.37 495.2 L290.64 495.21 L291.91 495.22 L293.18 495.23 L294.45 495.24 L295.72 495.25 L296.99 495.26 L298.26 495.27 L299.53 495.28 L300.79 495.31 L302.06 495.41 L303.33 495.55 L304.6 495.74 L305.87 495.97 L307.14 496.23 L308.41 496.51 L309.68 496.87 L310.95 497.36 L312.22 497.98 L313.49 498.72 L314.75 499.56 L316.02 500.53 L317.29 501.86 L318.56 503.49 L319.83 505.33 L321.1 507.29 L322.37 509.6 L323.64 512.23 L324.91 515.02 L326.18 518.07 L327.45 521.37 L328.72 524.58 L329.98 527.55 L331.25 530.44 L332.52 533.09 L333.79 535.37 L335.06 537.41 L336.33 539.24 L337.6 540.84 L338.87 542.34 L340.14 543.72 L341.41 544.93 L342.68 545.88 L343.95 546.65 L345.21 547.35 L346.48 547.97 L347.75 548.47 L349.02 548.84 L350.29 549.07 L351.56 549.25 L352.83 549.41 L354.1 549.55 L355.37 549.66 L356.64 549.74 L357.91 549.78 L359.18 549.82 L360.44 549.85 L361.71 549.87 L362.98 549.89 L364.25 549.91 L365.52 549.92 L366.79 549.92 L368.06 549.92 L369.33 549.92 L370.6 549.92 L371.87 549.92 L373.14 549.92 L374.41 549.92 L375.67 549.92 L376.94 549.92 L378.21 549.92 L379.48 549.92 L380.75 549.92 L382.02 549.92 L383.29 549.92 L384.56 549.92 L385.83 549.92 L387.1 549.92 L388.37 549.92 L389.63 549.92 L390.9 549.92 L392.17 549.92 L393.44 549.92 L394.71 549.92 L395.98 549.92 L397.25 549.92 L398.52 549.92 L399.79 549.92 L401.06 549.92 L402.33 549.92 L403.6 549.92 L404.86 549.92 L406.13 549.92 L407.4 549.92 L408.67 549.92 L409.94 549.92 L411.21 549.92 L412.48 549.92 L413.75 549.92 L415.02 549.92 L416.29 549.92 L417.56 549.92 L418.83 549.92 L420.09 549.92 L421.36 549.92 L422.63 549.92 L423.9 549.92 L425.17 549.92 L426.44 549.92 L427.71 549.92 L428.98 549.92 L430.25 549.92 L431.52 549.92 L432.79 549.92 L434.06 549.92" stroke="#0000ff" stroke-width="3.3" stroke-linecap="round" stroke-linejoin="round" fill="none"/>
</g>
<text transform="translate(165.26 655.46) scale(1 1.05)" font-size="27.3" text-anchor="end">0</text>
<text transform="translate(165.26 582.09) scale(1 1.05)" font-size="27.3" text-anchor="end">50</text>
<text transform="translate(165.26 508.73) scale(1 1.05)" font-size="27.3" text-anchor="end">100</text>
<text transform="translate(165.26 435.36) scale(1 1.05)" font-size="27.3" text-anchor="end">150</text>
<text transform="translate(186.25 702.36) scale(1 1.05)" font-size="27.3">10</text>
<text transform="translate(218.82 693.36) scale(1 1.05)" font-size="18.2">-2</text>
<text transform="translate(242.13 702.36) scale(1 1.05)" font-size="27.3">10</text>
<text transform="translate(274.7 693.36) scale(1 1.05)" font-size="18.2">-1</text>
<text transform="translate(301.03 702.36) scale(1 1.05)" font-size="27.3">10</text>
<text transform="translate(333.6 693.36) scale(1 1.05)" font-size="18.2">0</text>
<text transform="translate(356.91 702.36) scale(1 1.05)" font-size="27.3">10</text>
<text transform="translate(389.48 693.36) scale(1 1.05)" font-size="18.2">1</text>
<text transform="translate(412.78 702.36) scale(1 1.05)" font-size="27.3">10</text>
<text transform="translate(445.35 693.36) scale(1 1.05)" font-size="18.2">2</text>
<text transform="translate(210.05 632.7) scale(1 1.05)" font-size="23.3"><tspan font-style="italic">R</tspan><tspan font-size="15.4" dy="-7.5">2</tspan><tspan dy="7.5">=0.7548</tspan></text>
</g>
<g>
<text transform="translate(682.51 403.86) scale(1 1.05)" font-size="27.3" text-anchor="middle">AGP-R5</text>
<path d="M554.74 422.26V647.96M530.68 645.26H814.11M530.68 571.89H554.74M530.68 498.53H554.74M530.68 425.16H554.74M570.74 645.26V669.03M626.62 645.26V669.03M682.49 645.26V669.03M738.37 645.26V669.03M794.24 645.26V669.03" stroke="#000" stroke-width="5.8" stroke-linecap="round" fill="none"/>
<path d="M571.59 571.59H807.29" stroke="#000" stroke-width="5.5" stroke-linecap="round" stroke-dasharray="0 16.8" fill="none"/>
<g clip-path="url(#cp1_1)">
<path d="M592.3 494.19h.01M600.46 494.45h.01M608.61 494.72h.01M616.82 494.86h.01M624.98 495.1h.01M633.1 495.48h.01M641.09 496.15h.01M649.08 496.81h.01M657.07 497.48h.01M665.17 497.89h.01M673.33 498.16h.01M681.43 498.57h.01M688.66 500.5h.01M694.64 504.15h.01M700.34 508.25h.01M705.97 512.45h.01M711.62 516.61h.01M717.17 520.9h.01M722.79 525.1h.01M728.41 529.32h.01M734.01 533.54h.01M739.9 537.34h.01M746.41 540.19h.01M753.67 542.11h.01M761.71 542.39h.01M769.85 542.08h.01M778.03 541.89h.01M786.2 541.65h.01M794.37 541.41h.01" stroke="#000" stroke-width="3.3" stroke-linecap="round" fill="none"/>
<path d="M592.3 517.39h.01M600.71 517.39h.01M609.12 517.39h.01M617.43 517.13h.01M625.73 516.83h.01M634.09 516.69h.01M642.4 516.43h.01M650.66 516.82h.01M658.67 517.77h.01M666.26 519.45h.01M672.72 522.59h.01M678.66 526.56h.01M684.47 530.71h.01M690.38 534.71h.01M695.92 539.22h.01M701.61 543.54h.01M707.06 548.17h.01M712.5 552.81h.01M717.72 557.69h.01M723.96 561.19h.01M731.6 562.79h.01M739.71 563.51h.01M748.12 563.51h.01M756.22 564.25h.01M763.9 565.8h.01M771.6 567.31h.01M779.51 568.46h.01M787.41 569.49h.01M794.37 572.02h.01" stroke="#000" stroke-width="3.3" stroke-linecap="round" fill="none"/>
<circle cx="592.4" cy="509.15" r="6.05" fill="#0000ff"/>
<path d="M626.04 488.97V500.64M620.34 488.97h11.4M620.34 500.64h11.4" stroke="#0000ff" stroke-width="3" stroke-linecap="round" fill="none"/>
<circle cx="626.04" cy="495.15" r="6.05" fill="#0000ff"/>
<circle cx="659.68" cy="516.84" r="6.05" fill="#0000ff"/>
<circle cx="693.32" cy="518.48" r="6.05" fill="#0000ff"/>
<circle cx="726.96" cy="544.57" r="6.05" fill="#0000ff"/>
<path d="M760.6 546.21V579.57M754.9 546.21h11.4M754.9 579.57h11.4" stroke="#0000ff" stroke-width="3" stroke-linecap="round" fill="none"/>
<circle cx="760.6" cy="562.82" r="6.05" fill="#0000ff"/>
<path d="M794.24 539.76V554.86M788.54 539.76h11.4M788.54 554.86h11.4" stroke="#0000ff" stroke-width="3" stroke-linecap="round" fill="none"/>
<circle cx="794.24" cy="547.31" r="6.05" fill="#0000ff"/>
<path d="M592.85 506.17 L594.12 506.17 L595.38 506.17 L596.65 506.18 L597.92 506.18 L599.19 506.18 L600.45 506.18 L601.72 506.18 L602.99 506.19 L604.25 506.19 L605.52 506.19 L606.79 506.2 L608.06 506.2 L609.32 506.21 L610.59 506.21 L611.86 506.22 L613.13 506.22 L614.39 506.23 L615.66 506.23 L616.93 506.24 L618.2 506.25 L619.46 506.26 L620.73 506.27 L622 506.28 L623.27 506.29 L624.53 506.3 L625.8 506.32 L627.07 506.33 L628.34 506.35 L629.6 506.37 L630.87 506.39 L632.14 506.41 L633.41 506.43 L634.67 506.46 L635.94 506.48 L637.21 506.52 L638.48 506.55 L639.74 506.59 L641.01 506.63 L642.28 506.67 L643.55 506.72 L644.81 506.77 L646.08 506.83 L647.35 506.89 L648.61 506.96 L649.88 507.03 L651.15 507.11 L652.42 507.2 L653.68 507.29 L654.95 507.4 L656.22 507.51 L657.49 507.63 L658.75 507.77 L660.02 507.91 L661.29 508.07 L662.56 508.24 L663.82 508.43 L665.09 508.63 L666.36 508.85 L667.63 509.09 L668.89 509.35 L670.16 509.63 L671.43 509.93 L672.7 510.25 L673.96 510.6 L675.23 510.98 L676.5 511.38 L677.77 511.82 L679.03 512.28 L680.3 512.78 L681.57 513.31 L682.84 513.88 L684.1 514.48 L685.37 515.11 L686.64 515.79 L687.91 516.5 L689.17 517.25 L690.44 518.04 L691.71 518.87 L692.97 519.73 L694.24 520.62 L695.51 521.55 L696.78 522.51 L698.04 523.5 L699.31 524.52 L700.58 525.55 L701.85 526.61 L703.11 527.68 L704.38 528.77 L705.65 529.86 L706.92 530.95 L708.18 532.04 L709.45 533.13 L710.72 534.2 L711.99 535.26 L713.25 536.31 L714.52 537.33 L715.79 538.32 L717.06 539.29 L718.32 540.22 L719.59 541.13 L720.86 542 L722.13 542.83 L723.39 543.63 L724.66 544.38 L725.93 545.1 L727.2 545.79 L728.46 546.43 L729.73 547.04 L731 547.62 L732.27 548.15 L733.53 548.66 L734.8 549.13 L736.07 549.57 L737.33 549.98 L738.6 550.36 L739.87 550.72 L741.14 551.05 L742.4 551.35 L743.67 551.64 L744.94 551.9 L746.21 552.14 L747.47 552.37 L748.74 552.57 L750.01 552.76 L751.28 552.94 L752.54 553.1 L753.81 553.25 L755.08 553.38 L756.35 553.51 L757.61 553.63 L758.88 553.73 L760.15 553.83 L761.42 553.92 L762.68 554 L763.95 554.07 L765.22 554.14 L766.49 554.21 L767.75 554.26 L769.02 554.32 L770.29 554.37 L771.56 554.41 L772.82 554.45 L774.09 554.49 L775.36 554.52 L776.63 554.55 L777.89 554.58 L779.16 554.61 L780.43 554.63 L781.69 554.66 L782.96 554.68 L784.23 554.69 L785.5 554.71 L786.76 554.73 L788.03 554.74 L789.3 554.75 L790.57 554.76 L791.83 554.78 L793.1 554.79 L794.37 554.79" stroke="#0000ff" stroke-width="3.3" stroke-linecap="round" stroke-linejoin="round" fill="none"/>
</g>
<text transform="translate(525.84 655.46) scale(1 1.05)" font-size="27.3" text-anchor="end">0</text>
<text transform="translate(525.84 582.09) scale(1 1.05)" font-size="27.3" text-anchor="end">50</text>
<text transform="translate(525.84 508.73) scale(1 1.05)" font-size="27.3" text-anchor="end">100</text>
<text transform="translate(525.84 435.36) scale(1 1.05)" font-size="27.3" text-anchor="end">150</text>
<text transform="translate(546.36 702.36) scale(1 1.05)" font-size="27.3">10</text>
<text transform="translate(578.93 693.36) scale(1 1.05)" font-size="18.2">-2</text>
<text transform="translate(602.24 702.36) scale(1 1.05)" font-size="27.3">10</text>
<text transform="translate(634.81 693.36) scale(1 1.05)" font-size="18.2">-1</text>
<text transform="translate(661.14 702.36) scale(1 1.05)" font-size="27.3">10</text>
<text transform="translate(693.71 693.36) scale(1 1.05)" font-size="18.2">0</text>
<text transform="translate(717.02 702.36) scale(1 1.05)" font-size="27.3">10</text>
<text transform="translate(749.59 693.36) scale(1 1.05)" font-size="18.2">1</text>
<text transform="translate(772.89 702.36) scale(1 1.05)" font-size="27.3">10</text>
<text transform="translate(805.46 693.36) scale(1 1.05)" font-size="18.2">2</text>
<text transform="translate(569.7 632.7) scale(1 1.05)" font-size="23.3"><tspan font-style="italic">R</tspan><tspan font-size="15.4" dy="-7.5">2</tspan><tspan dy="7.5">=0.7291</tspan></text>
</g>
<g>
<text transform="translate(1044.62 403.86) scale(1 1.05)" font-size="27.3" text-anchor="middle">AGP-R11</text>
<path d="M914.92 422.26V647.96M890.86 645.26H1174.29M890.86 571.89H914.92M890.86 498.53H914.92M890.86 425.16H914.92M931.02 645.26V669.03M986.89 645.26V669.03M1042.77 645.26V669.03M1098.64 645.26V669.03M1154.52 645.26V669.03" stroke="#000" stroke-width="5.8" stroke-linecap="round" fill="none"/>
<path d="M931.77 571.59H1167.47" stroke="#000" stroke-width="5.5" stroke-linecap="round" stroke-dasharray="0 16.8" fill="none"/>
<g clip-path="url(#cp2_1)">
<path d="M952.68 503.38V533.31M946.98 503.38h11.4M946.98 533.31h11.4" stroke="#0000ff" stroke-width="3" stroke-linecap="round" fill="none"/>
<circle cx="952.68" cy="518.21" r="6.05" fill="#0000ff"/>
<path d="M986.32 496.25V519.58M980.62 496.25h11.4M980.62 519.58h11.4" stroke="#0000ff" stroke-width="3" stroke-linecap="round" fill="none"/>
<circle cx="986.32" cy="507.78" r="6.05" fill="#0000ff"/>
<path d="M1019.96 491.99V514.64M1014.26 491.99h11.4M1014.26 514.64h11.4" stroke="#0000ff" stroke-width="3" stroke-linecap="round" fill="none"/>
<circle cx="1019.96" cy="503.38" r="6.05" fill="#0000ff"/>
<path d="M1053.6 534.96V557.61M1047.9 534.96h11.4M1047.9 557.61h11.4" stroke="#0000ff" stroke-width="3" stroke-linecap="round" fill="none"/>
<circle cx="1053.6" cy="546.35" r="6.05" fill="#0000ff"/>
<circle cx="1087.24" cy="550.74" r="6.05" fill="#0000ff"/>
<path d="M1120.88 544.29V556.51M1115.18 544.29h11.4M1115.18 556.51h11.4" stroke="#0000ff" stroke-width="3" stroke-linecap="round" fill="none"/>
<circle cx="1120.88" cy="550.33" r="6.05" fill="#0000ff"/>
<path d="M1154.52 568.31V583.42M1148.82 568.31h11.4M1148.82 583.42h11.4" stroke="#0000ff" stroke-width="3" stroke-linecap="round" fill="none"/>
<circle cx="1154.52" cy="575.87" r="6.05" fill="#0000ff"/>
<path d="M952.99 509.7 L954.25 509.7 L955.51 509.7 L956.77 509.7 L958.03 509.7 L959.29 509.7 L960.55 509.7 L961.81 509.7 L963.07 509.7 L964.33 509.7 L965.59 509.7 L966.85 509.7 L968.11 509.7 L969.37 509.7 L970.63 509.7 L971.89 509.7 L973.15 509.7 L974.41 509.7 L975.67 509.7 L976.94 509.7 L978.2 509.7 L979.46 509.7 L980.72 509.7 L981.98 509.7 L983.24 509.7 L984.5 509.7 L985.76 509.7 L987.02 509.7 L988.28 509.7 L989.54 509.7 L990.8 509.7 L992.06 509.7 L993.32 509.7 L994.58 509.7 L995.84 509.7 L997.1 509.7 L998.36 509.7 L999.62 509.7 L1000.89 509.7 L1002.15 509.7 L1003.41 509.7 L1004.67 509.7 L1005.93 509.7 L1007.19 509.7 L1008.45 509.7 L1009.71 509.7 L1010.97 509.7 L1012.23 509.7 L1013.49 509.7 L1014.75 509.7 L1016.01 509.7 L1017.27 509.7 L1018.53 509.7 L1019.79 509.7 L1021.05 509.7 L1022.31 509.7 L1023.57 509.71 L1024.83 509.71 L1026.1 509.73 L1027.36 509.74 L1028.62 509.76 L1029.88 509.77 L1031.14 509.8 L1032.4 509.82 L1033.66 509.85 L1034.92 509.89 L1036.18 509.92 L1037.44 509.96 L1038.7 510.05 L1039.96 510.24 L1041.22 510.54 L1042.48 510.93 L1043.74 511.73 L1045 513.11 L1046.26 514.92 L1047.52 517.77 L1048.78 521.63 L1050.05 527.15 L1051.31 534.84 L1052.57 542.97 L1053.83 548.49 L1055.09 552.5 L1056.35 555.03 L1057.61 556.32 L1058.87 557.2 L1060.13 557.83 L1061.39 558.37 L1062.65 558.77 L1063.91 559 L1065.17 559.12 L1066.43 559.23 L1067.69 559.31 L1068.95 559.36 L1070.21 559.39 L1071.47 559.39 L1072.73 559.39 L1074 559.39 L1075.26 559.39 L1076.52 559.39 L1077.78 559.39 L1079.04 559.39 L1080.3 559.39 L1081.56 559.39 L1082.82 559.39 L1084.08 559.39 L1085.34 559.39 L1086.6 559.39 L1087.86 559.39 L1089.12 559.39 L1090.38 559.39 L1091.64 559.39 L1092.9 559.39 L1094.16 559.39 L1095.42 559.39 L1096.68 559.39 L1097.95 559.39 L1099.21 559.39 L1100.47 559.39 L1101.73 559.39 L1102.99 559.39 L1104.25 559.39 L1105.51 559.39 L1106.77 559.39 L1108.03 559.39 L1109.29 559.39 L1110.55 559.39 L1111.81 559.39 L1113.07 559.39 L1114.33 559.39 L1115.59 559.39 L1116.85 559.39 L1118.11 559.39 L1119.37 559.39 L1120.63 559.39 L1121.9 559.39 L1123.16 559.39 L1124.42 559.39 L1125.68 559.39 L1126.94 559.39 L1128.2 559.39 L1129.46 559.39 L1130.72 559.39 L1131.98 559.39 L1133.24 559.39 L1134.5 559.39 L1135.76 559.39 L1137.02 559.39 L1138.28 559.39 L1139.54 559.39 L1140.8 559.39 L1142.06 559.39 L1143.32 559.39 L1144.58 559.39 L1145.84 559.39 L1147.11 559.39 L1148.37 559.39 L1149.63 559.39 L1150.89 559.39 L1152.15 559.39 L1153.41 559.39" stroke="#0000ff" stroke-width="3.3" stroke-linecap="round" stroke-linejoin="round" fill="none"/>
</g>
<text transform="translate(886.02 655.46) scale(1 1.05)" font-size="27.3" text-anchor="end">0</text>
<text transform="translate(886.02 582.09) scale(1 1.05)" font-size="27.3" text-anchor="end">50</text>
<text transform="translate(886.02 508.73) scale(1 1.05)" font-size="27.3" text-anchor="end">100</text>
<text transform="translate(886.02 435.36) scale(1 1.05)" font-size="27.3" text-anchor="end">150</text>
<text transform="translate(907.69 702.16) scale(1 1.05)" font-size="20.3">1<tspan dx="3.06">0</tspan></text>
<text transform="translate(939.21 693.36) scale(1 1.05)" font-size="18.2">-2</text>
<text transform="translate(962.52 702.36) scale(1 1.05)" font-size="27.3">10</text>
<text transform="translate(995.09 693.36) scale(1 1.05)" font-size="18.2">-1</text>
<text transform="translate(1021.42 702.36) scale(1 1.05)" font-size="27.3">10</text>
<text transform="translate(1053.99 693.36) scale(1 1.05)" font-size="18.2">0</text>
<text transform="translate(1077.3 702.36) scale(1 1.05)" font-size="27.3">10</text>
<text transform="translate(1109.87 693.36) scale(1 1.05)" font-size="18.2">1</text>
<text transform="translate(1133.17 702.36) scale(1 1.05)" font-size="27.3">10</text>
<text transform="translate(1165.74 693.36) scale(1 1.05)" font-size="18.2">2</text>
<text transform="translate(931.6 632.7) scale(1 1.05)" font-size="23.3"><tspan font-style="italic">R</tspan><tspan font-size="15.4" dy="-7.5">2</tspan><tspan dy="7.5">=0.6498</tspan></text>
</g>
<g>
<text transform="translate(1403.08 403.86) scale(1 1.05)" font-size="27.3" text-anchor="middle">AGP-R20</text>
<path d="M1275.3 422.26V647.96M1251.24 645.26H1534.67M1251.24 571.89H1275.3M1251.24 498.53H1275.3M1251.24 425.16H1275.3M1291.4 645.26V669.03M1347.27 645.26V669.03M1403.15 645.26V669.03M1459.02 645.26V669.03M1514.9 645.26V669.03" stroke="#000" stroke-width="5.8" stroke-linecap="round" fill="none"/>
<path d="M1292.15 571.59H1527.85" stroke="#000" stroke-width="5.5" stroke-linecap="round" stroke-dasharray="0 16.8" fill="none"/>
<g clip-path="url(#cp3_1)">
<path d="M1313.06 518.21V542.23M1307.36 518.21h11.4M1307.36 542.23h11.4" stroke="#0000ff" stroke-width="3" stroke-linecap="round" fill="none"/>
<circle cx="1313.06" cy="530.15" r="6.05" fill="#0000ff"/>
<path d="M1346.7 482.52V534M1341 482.52h11.4M1341 534h11.4" stroke="#0000ff" stroke-width="3" stroke-linecap="round" fill="none"/>
<circle cx="1346.7" cy="508.19" r="6.05" fill="#0000ff"/>
<path d="M1380.34 519.44V541.13M1374.64 519.44h11.4M1374.64 541.13h11.4" stroke="#0000ff" stroke-width="3" stroke-linecap="round" fill="none"/>
<circle cx="1380.34" cy="530.15" r="6.05" fill="#0000ff"/>
<path d="M1413.98 519.86V540.45M1408.28 519.86h11.4M1408.28 540.45h11.4" stroke="#0000ff" stroke-width="3" stroke-linecap="round" fill="none"/>
<circle cx="1413.98" cy="530.15" r="6.05" fill="#0000ff"/>
<path d="M1447.62 491.03V534.96M1441.92 491.03h11.4M1441.92 534.96h11.4" stroke="#0000ff" stroke-width="3" stroke-linecap="round" fill="none"/>
<circle cx="1447.62" cy="512.99" r="6.05" fill="#0000ff"/>
<circle cx="1481.26" cy="532.9" r="6.05" fill="#0000ff"/>
<circle cx="1514.9" cy="565.84" r="6.05" fill="#0000ff"/>
<path d="M1313.26 522.33 L1314.53 522.33 L1315.8 522.33 L1317.07 522.33 L1318.34 522.33 L1319.61 522.33 L1320.87 522.33 L1322.14 522.33 L1323.41 522.33 L1324.68 522.33 L1325.95 522.33 L1327.22 522.33 L1328.49 522.33 L1329.76 522.33 L1331.03 522.33 L1332.3 522.33 L1333.57 522.33 L1334.84 522.33 L1336.1 522.33 L1337.37 522.33 L1338.64 522.33 L1339.91 522.33 L1341.18 522.33 L1342.45 522.33 L1343.72 522.33 L1344.99 522.33 L1346.26 522.33 L1347.53 522.33 L1348.8 522.33 L1350.07 522.33 L1351.33 522.33 L1352.6 522.33 L1353.87 522.33 L1355.14 522.33 L1356.41 522.33 L1357.68 522.33 L1358.95 522.33 L1360.22 522.33 L1361.49 522.33 L1362.76 522.33 L1364.03 522.33 L1365.3 522.33 L1366.56 522.33 L1367.83 522.33 L1369.1 522.33 L1370.37 522.33 L1371.64 522.33 L1372.91 522.33 L1374.18 522.33 L1375.45 522.33 L1376.72 522.33 L1377.99 522.33 L1379.26 522.33 L1380.53 522.33 L1381.79 522.33 L1383.06 522.33 L1384.33 522.33 L1385.6 522.33 L1386.87 522.33 L1388.14 522.33 L1389.41 522.33 L1390.68 522.33 L1391.95 522.33 L1393.22 522.33 L1394.49 522.33 L1395.75 522.33 L1397.02 522.33 L1398.29 522.33 L1399.56 522.33 L1400.83 522.33 L1402.1 522.33 L1403.37 522.33 L1404.64 522.33 L1405.91 522.33 L1407.18 522.33 L1408.45 522.33 L1409.72 522.33 L1410.98 522.33 L1412.25 522.33 L1413.52 522.33 L1414.79 522.33 L1416.06 522.33 L1417.33 522.33 L1418.6 522.33 L1419.87 522.33 L1421.14 522.33 L1422.41 522.33 L1423.68 522.33 L1424.95 522.33 L1426.21 522.33 L1427.48 522.33 L1428.75 522.33 L1430.02 522.33 L1431.29 522.33 L1432.56 522.33 L1433.83 522.33 L1435.1 522.33 L1436.37 522.33 L1437.64 522.33 L1438.91 522.33 L1440.18 522.33 L1441.44 522.33 L1442.71 522.33 L1443.98 522.33 L1445.25 522.33 L1446.52 522.33 L1447.79 522.33 L1449.06 522.33 L1450.33 522.33 L1451.6 522.33 L1452.87 522.33 L1454.14 522.33 L1455.41 522.33 L1456.67 522.33 L1457.94 522.33 L1459.21 522.33 L1460.48 522.33 L1461.75 522.33 L1463.02 522.33 L1464.29 522.33 L1465.56 522.33 L1466.83 522.33 L1468.1 522.33 L1469.37 522.33 L1470.63 522.42 L1471.9 522.62 L1473.17 522.9 L1474.44 523.25 L1475.71 523.85 L1476.98 524.92 L1478.25 526.38 L1479.52 528.84 L1480.79 532.38 L1482.06 538.01 L1483.33 544.65 L1484.6 551.61 L1485.86 557.1 L1487.13 560.79 L1488.4 562.93 L1489.67 564.06 L1490.94 564.48 L1492.21 564.79 L1493.48 565 L1494.75 565.13 L1496.02 565.21 L1497.29 565.27 L1498.56 565.32 L1499.83 565.35 L1501.09 565.39 L1502.36 565.41 L1503.63 565.44 L1504.9 565.46 L1506.17 565.48 L1507.44 565.5 L1508.71 565.52 L1509.98 565.54 L1511.25 565.55 L1512.52 565.56 L1513.79 565.57 L1515.06 565.57" stroke="#0000ff" stroke-width="3.3" stroke-linecap="round" stroke-linejoin="round" fill="none"/>
</g>
<text transform="translate(1246.4 655.46) scale(1 1.05)" font-size="27.3" text-anchor="end">0</text>
<text transform="translate(1246.4 582.09) scale(1 1.05)" font-size="27.3" text-anchor="end">50</text>
<text transform="translate(1246.4 508.73) scale(1 1.05)" font-size="27.3" text-anchor="end">100</text>
<text transform="translate(1246.4 435.36) scale(1 1.05)" font-size="27.3" text-anchor="end">150</text>
<text transform="translate(1267.02 702.36) scale(1 1.05)" font-size="27.3">10</text>
<text transform="translate(1299.59 693.36) scale(1 1.05)" font-size="18.2">-2</text>
<text transform="translate(1322.9 702.36) scale(1 1.05)" font-size="27.3">10</text>
<text transform="translate(1355.47 693.36) scale(1 1.05)" font-size="18.2">-1</text>
<text transform="translate(1381.8 702.36) scale(1 1.05)" font-size="27.3">10</text>
<text transform="translate(1414.37 693.36) scale(1 1.05)" font-size="18.2">0</text>
<text transform="translate(1437.68 702.36) scale(1 1.05)" font-size="27.3">10</text>
<text transform="translate(1470.25 693.36) scale(1 1.05)" font-size="18.2">1</text>
<text transform="translate(1493.55 702.36) scale(1 1.05)" font-size="27.3">10</text>
<text transform="translate(1526.12 693.36) scale(1 1.05)" font-size="18.2">2</text>
<text transform="translate(1289.7 632.7) scale(1 1.05)" font-size="23.3"><tspan font-style="italic">R</tspan><tspan font-size="15.4" dy="-7.5">2</tspan><tspan dy="7.5">=0.3104</tspan></text>
</g>
<g>
<text transform="translate(1763.58 403.86) scale(1 1.05)" font-size="27.3" text-anchor="middle">AGP-R22</text>
<path d="M1635.68 422.26V647.96M1611.62 645.26H1895.05M1611.62 571.89H1635.68M1611.62 498.53H1635.68M1611.62 425.16H1635.68M1651.88 645.26V669.03M1707.76 645.26V669.03M1763.63 645.26V669.03M1819.51 645.26V669.03M1875.38 645.26V669.03" stroke="#000" stroke-width="5.8" stroke-linecap="round" fill="none"/>
<path d="M1652.53 571.59H1888.23" stroke="#000" stroke-width="5.5" stroke-linecap="round" stroke-dasharray="0 16.8" fill="none"/>
<g clip-path="url(#cp4_1)">
<path d="M1673.69 488.56h.01M1680.45 491.26h.01M1687.43 493.71h.01M1694.76 495.73h.01M1702.17 497.62h.01M1709.66 499.4h.01M1717.09 501.29h.01M1724.63 502.99h.01M1732.32 504.45h.01M1739.64 506.48h.01M1746.42 509.16h.01M1752.75 512.4h.01M1759.1 515.62h.01M1765.22 519.25h.01M1771.23 523.07h.01M1777.38 526.65h.01M1783.63 530.07h.01M1789.82 533.58h.01M1796.05 537.02h.01M1802.48 540.09h.01M1808.84 543.29h.01M1815.13 546.63h.01M1821.49 549.82h.01M1827.84 553.04h.01M1834.13 556.38h.01M1840.41 559.73h.01M1847.44 562.1h.01M1855.04 563.71h.01M1863.1 564.46h.01M1871.37 564.2h.01" stroke="#000" stroke-width="3.3" stroke-linecap="round" fill="none"/>
<path d="M1673.69 521.92h.01M1681.75 520.92h.01M1690.1 520.55h.01M1698.38 521.07h.01M1706.42 522.11h.01M1713.93 524.04h.01M1720.85 526.7h.01M1727.43 529.71h.01M1734.24 532.49h.01M1740.98 535.34h.01M1747.59 538.33h.01M1754.2 541.31h.01M1760.46 544.9h.01M1766.87 548.19h.01M1773.47 551.19h.01M1779.89 554.48h.01M1785.88 558.5h.01M1792.04 562.24h.01M1798.42 565.6h.01M1804.6 569.33h.01M1810.82 572.97h.01M1817.07 576.57h.01M1823.74 579.5h.01M1830.66 582.17h.01M1837.63 584.78h.01M1845 586.9h.01M1852.07 589.37h.01M1859.54 591.34h.01M1866.11 594.45h.01M1872.74 597.42h.01" stroke="#000" stroke-width="3.3" stroke-linecap="round" fill="none"/>
<circle cx="1673.54" cy="503.66" r="6.05" fill="#0000ff"/>
<circle cx="1707.18" cy="513.95" r="6.05" fill="#0000ff"/>
<path d="M1740.82 503.38V530.56M1735.12 503.38h11.4M1735.12 530.56h11.4" stroke="#0000ff" stroke-width="3" stroke-linecap="round" fill="none"/>
<circle cx="1740.82" cy="517.11" r="6.05" fill="#0000ff"/>
<path d="M1774.46 531.8V552.12M1768.76 531.8h11.4M1768.76 552.12h11.4" stroke="#0000ff" stroke-width="3" stroke-linecap="round" fill="none"/>
<circle cx="1774.46" cy="541.82" r="6.05" fill="#0000ff"/>
<path d="M1808.1 539.76V566.12M1802.4 539.76h11.4M1802.4 566.12h11.4" stroke="#0000ff" stroke-width="3" stroke-linecap="round" fill="none"/>
<circle cx="1808.1" cy="552.8" r="6.05" fill="#0000ff"/>
<circle cx="1841.74" cy="576.14" r="6.05" fill="#0000ff"/>
<path d="M1875.38 568.31V590.14M1869.68 568.31h11.4M1869.68 590.14h11.4" stroke="#0000ff" stroke-width="3" stroke-linecap="round" fill="none"/>
<circle cx="1875.38" cy="579.3" r="6.05" fill="#0000ff"/>
<path d="M1673.69 505.15 L1674.96 505.29 L1676.23 505.42 L1677.5 505.57 L1678.77 505.71 L1680.04 505.87 L1681.31 506.02 L1682.58 506.19 L1683.84 506.35 L1685.11 506.53 L1686.38 506.7 L1687.65 506.89 L1688.92 507.08 L1690.19 507.28 L1691.46 507.48 L1692.73 507.69 L1694 507.9 L1695.27 508.13 L1696.54 508.36 L1697.81 508.59 L1699.07 508.84 L1700.34 509.09 L1701.61 509.35 L1702.88 509.61 L1704.15 509.89 L1705.42 510.17 L1706.69 510.46 L1707.96 510.76 L1709.23 511.07 L1710.5 511.39 L1711.77 511.72 L1713.04 512.05 L1714.3 512.4 L1715.57 512.75 L1716.84 513.11 L1718.11 513.49 L1719.38 513.87 L1720.65 514.26 L1721.92 514.67 L1723.19 515.08 L1724.46 515.51 L1725.73 515.94 L1727 516.38 L1728.27 516.84 L1729.53 517.31 L1730.8 517.78 L1732.07 518.27 L1733.34 518.77 L1734.61 519.28 L1735.88 519.8 L1737.15 520.33 L1738.42 520.87 L1739.69 521.42 L1740.96 521.99 L1742.23 522.56 L1743.5 523.15 L1744.76 523.74 L1746.03 524.34 L1747.3 524.96 L1748.57 525.59 L1749.84 526.22 L1751.11 526.86 L1752.38 527.52 L1753.65 528.18 L1754.92 528.85 L1756.19 529.53 L1757.46 530.22 L1758.73 530.92 L1759.99 531.62 L1761.26 532.33 L1762.53 533.05 L1763.8 533.78 L1765.07 534.51 L1766.34 535.25 L1767.61 535.99 L1768.88 536.73 L1770.15 537.49 L1771.42 538.24 L1772.69 539 L1773.95 539.76 L1775.22 540.52 L1776.49 541.29 L1777.76 542.06 L1779.03 542.83 L1780.3 543.6 L1781.57 544.36 L1782.84 545.13 L1784.11 545.9 L1785.38 546.66 L1786.65 547.43 L1787.92 548.19 L1789.18 548.94 L1790.45 549.7 L1791.72 550.45 L1792.99 551.19 L1794.26 551.93 L1795.53 552.67 L1796.8 553.4 L1798.07 554.12 L1799.34 554.83 L1800.61 555.54 L1801.88 556.24 L1803.15 556.94 L1804.41 557.62 L1805.68 558.3 L1806.95 558.97 L1808.22 559.63 L1809.49 560.28 L1810.76 560.92 L1812.03 561.55 L1813.3 562.17 L1814.57 562.78 L1815.84 563.38 L1817.11 563.97 L1818.38 564.55 L1819.64 565.12 L1820.91 565.68 L1822.18 566.23 L1823.45 566.77 L1824.72 567.29 L1825.99 567.81 L1827.26 568.31 L1828.53 568.81 L1829.8 569.29 L1831.07 569.76 L1832.34 570.23 L1833.61 570.68 L1834.87 571.12 L1836.14 571.55 L1837.41 571.97 L1838.68 572.38 L1839.95 572.78 L1841.22 573.17 L1842.49 573.54 L1843.76 573.91 L1845.03 574.27 L1846.3 574.62 L1847.57 574.97 L1848.84 575.3 L1850.1 575.62 L1851.37 575.93 L1852.64 576.24 L1853.91 576.53 L1855.18 576.82 L1856.45 577.1 L1857.72 577.37 L1858.99 577.64 L1860.26 577.89 L1861.53 578.14 L1862.8 578.38 L1864.06 578.62 L1865.33 578.84 L1866.6 579.06 L1867.87 579.28 L1869.14 579.48 L1870.41 579.68 L1871.68 579.88 L1872.95 580.07 L1874.22 580.25 L1875.49 580.43" stroke="#0000ff" stroke-width="3.3" stroke-linecap="round" stroke-linejoin="round" fill="none"/>
</g>
<text transform="translate(1606.78 655.46) scale(1 1.05)" font-size="27.3" text-anchor="end">0</text>
<text transform="translate(1606.78 582.09) scale(1 1.05)" font-size="27.3" text-anchor="end">50</text>
<text transform="translate(1606.78 508.73) scale(1 1.05)" font-size="27.3" text-anchor="end">100</text>
<text transform="translate(1606.78 435.36) scale(1 1.05)" font-size="27.3" text-anchor="end">150</text>
<text transform="translate(1627.5 702.36) scale(1 1.05)" font-size="27.3">10</text>
<text transform="translate(1660.07 693.36) scale(1 1.05)" font-size="18.2">-2</text>
<text transform="translate(1683.38 702.36) scale(1 1.05)" font-size="27.3">10</text>
<text transform="translate(1715.95 693.36) scale(1 1.05)" font-size="18.2">-1</text>
<text transform="translate(1742.28 702.36) scale(1 1.05)" font-size="27.3">10</text>
<text transform="translate(1774.85 693.36) scale(1 1.05)" font-size="18.2">0</text>
<text transform="translate(1798.16 702.36) scale(1 1.05)" font-size="27.3">10</text>
<text transform="translate(1830.73 693.36) scale(1 1.05)" font-size="18.2">1</text>
<text transform="translate(1854.03 702.36) scale(1 1.05)" font-size="27.3">10</text>
<text transform="translate(1886.6 693.36) scale(1 1.05)" font-size="18.2">2</text>
<text transform="translate(1653.8 632.7) scale(1 1.05)" font-size="23.3"><tspan font-style="italic">R</tspan><tspan font-size="15.4" dy="-7.5">2</tspan><tspan dy="7.5">=0.7975</tspan></text>
</g>
<g>
<text transform="translate(322.15 758.16) scale(1 1.05)" font-size="27.3" text-anchor="middle" letter-spacing="-0.6">MR78</text>
<path d="M194.16 776.56V1002.26M170.1 999.56H453.53M170.1 926.19H194.16M170.1 852.83H194.16M170.1 779.46H194.16M210.63 999.56V1023.33M266.5 999.56V1023.33M322.38 999.56V1023.33M378.25 999.56V1023.33M434.13 999.56V1023.33" stroke="#000" stroke-width="5.8" stroke-linecap="round" fill="none"/>
<path d="M211.01 925.89H446.71" stroke="#000" stroke-width="5.5" stroke-linecap="round" stroke-dasharray="0 16.8" fill="none"/>
<g clip-path="url(#cp0_2)">
<path d="M232.29 835.05V873.48M226.59 835.05h11.4M226.59 873.48h11.4" stroke="#0000ff" stroke-width="3" stroke-linecap="round" fill="none"/>
<circle cx="232.29" cy="854.27" r="6.05" fill="#0000ff"/>
<circle cx="265.93" cy="858.66" r="6.05" fill="#0000ff"/>
<path d="M299.57 851.52V877.19M293.87 851.52h11.4M293.87 877.19h11.4" stroke="#0000ff" stroke-width="3" stroke-linecap="round" fill="none"/>
<circle cx="299.57" cy="864.56" r="6.05" fill="#0000ff"/>
<path d="M333.21 828.46V863.46M327.51 828.46h11.4M327.51 863.46h11.4" stroke="#0000ff" stroke-width="3" stroke-linecap="round" fill="none"/>
<circle cx="333.21" cy="846.03" r="6.05" fill="#0000ff"/>
<path d="M366.85 857.7V893.11M361.15 857.7h11.4M361.15 893.11h11.4" stroke="#0000ff" stroke-width="3" stroke-linecap="round" fill="none"/>
<circle cx="366.85" cy="875.54" r="6.05" fill="#0000ff"/>
<circle cx="400.49" cy="903.41" r="6.05" fill="#0000ff"/>
<path d="M434.13 898.61V919.47M428.43 898.61h11.4M428.43 919.47h11.4" stroke="#0000ff" stroke-width="3" stroke-linecap="round" fill="none"/>
<circle cx="434.13" cy="909.18" r="6.05" fill="#0000ff"/>
<path d="M232.26 855.91 L233.53 855.91 L234.8 855.91 L236.07 855.91 L237.34 855.91 L238.61 855.91 L239.87 855.91 L241.14 855.91 L242.41 855.91 L243.68 855.91 L244.95 855.91 L246.22 855.91 L247.49 855.91 L248.76 855.91 L250.03 855.91 L251.3 855.91 L252.57 855.91 L253.84 855.91 L255.1 855.91 L256.37 855.91 L257.64 855.91 L258.91 855.91 L260.18 855.91 L261.45 855.91 L262.72 855.91 L263.99 855.91 L265.26 855.91 L266.53 855.91 L267.8 855.91 L269.07 855.91 L270.33 855.91 L271.6 855.91 L272.87 855.91 L274.14 855.91 L275.41 855.91 L276.68 855.91 L277.95 855.91 L279.22 855.91 L280.49 855.91 L281.76 855.91 L283.03 855.91 L284.3 855.91 L285.56 855.91 L286.83 855.91 L288.1 855.91 L289.37 855.91 L290.64 855.91 L291.91 855.91 L293.18 855.91 L294.45 855.91 L295.72 855.91 L296.99 855.91 L298.26 855.91 L299.53 855.91 L300.79 855.91 L302.06 855.91 L303.33 855.91 L304.6 855.91 L305.87 855.91 L307.14 855.91 L308.41 855.91 L309.68 855.91 L310.95 855.91 L312.22 855.91 L313.49 855.91 L314.75 855.91 L316.02 855.91 L317.29 855.91 L318.56 855.91 L319.83 855.91 L321.1 855.91 L322.37 855.91 L323.64 855.91 L324.91 855.91 L326.18 855.91 L327.45 855.91 L328.72 855.91 L329.98 855.91 L331.25 855.91 L332.52 855.91 L333.79 855.91 L335.06 855.91 L336.33 855.91 L337.6 855.92 L338.87 855.92 L340.14 855.92 L341.41 855.93 L342.68 855.93 L343.95 855.94 L345.21 855.95 L346.48 855.96 L347.75 855.97 L349.02 855.98 L350.29 856 L351.56 856.02 L352.83 856.03 L354.1 856.07 L355.37 856.39 L356.64 856.98 L357.91 857.72 L359.18 858.85 L360.44 860.51 L361.71 862.52 L362.98 865.24 L364.25 868.58 L365.52 872.8 L366.79 877.6 L368.06 883.02 L369.33 888.48 L370.6 893.14 L371.87 897.16 L373.14 900.04 L374.41 902.25 L375.67 903.61 L376.94 904.62 L378.21 905.26 L379.48 905.58 L380.75 905.84 L382.02 906.04 L383.29 906.14 L384.56 906.16 L385.83 906.16 L387.1 906.16 L388.37 906.16 L389.63 906.16 L390.9 906.16 L392.17 906.16 L393.44 906.16 L394.71 906.16 L395.98 906.16 L397.25 906.16 L398.52 906.16 L399.79 906.16 L401.06 906.16 L402.33 906.16 L403.6 906.16 L404.86 906.16 L406.13 906.16 L407.4 906.16 L408.67 906.16 L409.94 906.16 L411.21 906.16 L412.48 906.16 L413.75 906.16 L415.02 906.16 L416.29 906.16 L417.56 906.16 L418.83 906.16 L420.09 906.16 L421.36 906.16 L422.63 906.16 L423.9 906.16 L425.17 906.16 L426.44 906.16 L427.71 906.16 L428.98 906.16 L430.25 906.16 L431.52 906.16 L432.79 906.16 L434.06 906.16" stroke="#0000ff" stroke-width="3.3" stroke-linecap="round" stroke-linejoin="round" fill="none"/>
</g>
<text transform="translate(165.26 1009.76) scale(1 1.05)" font-size="27.3" text-anchor="end">0</text>
<text transform="translate(165.26 936.39) scale(1 1.05)" font-size="27.3" text-anchor="end">50</text>
<text transform="translate(165.26 863.03) scale(1 1.05)" font-size="27.3" text-anchor="end">100</text>
<text transform="translate(165.26 789.66) scale(1 1.05)" font-size="27.3" text-anchor="end">150</text>
<text transform="translate(186.25 1056.66) scale(1 1.05)" font-size="27.3">10</text>
<text transform="translate(218.82 1047.66) scale(1 1.05)" font-size="18.2">-2</text>
<text transform="translate(242.13 1056.66) scale(1 1.05)" font-size="27.3">10</text>
<text transform="translate(274.7 1047.66) scale(1 1.05)" font-size="18.2">-1</text>
<text transform="translate(301.03 1056.66) scale(1 1.05)" font-size="27.3">10</text>
<text transform="translate(333.6 1047.66) scale(1 1.05)" font-size="18.2">0</text>
<text transform="translate(356.91 1056.66) scale(1 1.05)" font-size="27.3">10</text>
<text transform="translate(389.48 1047.66) scale(1 1.05)" font-size="18.2">1</text>
<text transform="translate(412.78 1056.66) scale(1 1.05)" font-size="27.3">10</text>
<text transform="translate(445.35 1047.66) scale(1 1.05)" font-size="18.2">2</text>
<text transform="translate(210.05 986.74) scale(1 1.05)" font-size="23.3"><tspan font-style="italic">R</tspan><tspan font-size="15.4" dy="-7.5">2</tspan><tspan dy="7.5">=0.5531</tspan></text>
</g>
<g>
<text transform="translate(323.86 1168.47) scale(1 1.05)" font-size="27.3" text-anchor="middle">AGP-R1</text>
<path d="M194.16 1186.87V1412.57M170.1 1409.87H453.53M170.1 1336.5H194.16M170.1 1263.14H194.16M170.1 1189.77H194.16M210.63 1409.87V1433.64M266.5 1409.87V1433.64M322.38 1409.87V1433.64M378.25 1409.87V1433.64M434.13 1409.87V1433.64" stroke="#000" stroke-width="5.8" stroke-linecap="round" fill="none"/>
<path d="M211.01 1336.2H446.71" stroke="#000" stroke-width="5.5" stroke-linecap="round" stroke-dasharray="0 16.8" fill="none"/>
<g clip-path="url(#cp0_3)">
<path d="M232.26 1258.09h.01M240.04 1259.49h.01M248.03 1260.51h.01M255.9 1261.73h.01M263.28 1263.75h.01M271.02 1265.21h.01M278.29 1267.37h.01M285.79 1269.22h.01M293.05 1271.39h.01M300.25 1273.64h.01M307.34 1276.03h.01M314.21 1278.68h.01M320.65 1281.82h.01M326.77 1285.53h.01M332.56 1289.74h.01M337.75 1294.66h.01M342.6 1299.92h.01M347.52 1305.12h.01M352.17 1310.56h.01M356.73 1316.08h.01M361.54 1321.39h.01M366.56 1326.49h.01M371.55 1331.62h.01M376.22 1337.05h.01M380.19 1343h.01M384.37 1348.8h.01M389.07 1354.2h.01M393.49 1359.83h.01M398.04 1365.35h.01M402.92 1370.59h.01M407.78 1375.85h.01M412.45 1381.28h.01M417.84 1385.97h.01M424.09 1389.46h.01M431.31 1391.66h.01" stroke="#000" stroke-width="3.3" stroke-linecap="round" fill="none"/>
<path d="M232.26 1284.44h.01M240.59 1284.17h.01M249.02 1284.17h.01M257.45 1284.17h.01M265.74 1284.53h.01M273.85 1285.32h.01M281.35 1287.17h.01M288.74 1289.18h.01M295.72 1291.71h.01M302.27 1294.7h.01M308.59 1298.09h.01M314.58 1302.02h.01M320.43 1306.16h.01M326.1 1310.55h.01M331.46 1315.3h.01M336.8 1320.08h.01M342.44 1324.5h.01M346.92 1330.03h.01M351.61 1335.39h.01M356.72 1340.41h.01M361.28 1345.94h.01M365.6 1351.66h.01M369.77 1357.48h.01M373.98 1363.28h.01M378.3 1369h.01M382.5 1374.81h.01M386.75 1380.58h.01M391 1386.36h.01M395.94 1391.53h.01M401.31 1396.28h.01M406.38 1401.35h.01M412.09 1405.66h.01" stroke="#000" stroke-width="3.3" stroke-linecap="round" fill="none"/>
<rect x="226.29" y="1263.76" width="12" height="12" fill="#808080"/>
<path d="M265.93 1267.7V1284.44M260.23 1267.7h11.4M260.23 1284.44h11.4" stroke="#808080" stroke-width="3" stroke-linecap="round" fill="none"/>
<rect x="259.93" y="1269.93" width="12" height="12" fill="#808080"/>
<path d="M299.57 1264.27V1293.37M293.87 1264.27h11.4M293.87 1293.37h11.4" stroke="#808080" stroke-width="3" stroke-linecap="round" fill="none"/>
<rect x="293.57" y="1273.09" width="12" height="12" fill="#808080"/>
<rect x="327.21" y="1306.59" width="12" height="12" fill="#808080"/>
<path d="M366.85 1321.51V1337.98M361.15 1321.51h11.4M361.15 1337.98h11.4" stroke="#808080" stroke-width="3" stroke-linecap="round" fill="none"/>
<rect x="360.85" y="1323.88" width="12" height="12" fill="#808080"/>
<rect x="394.49" y="1383.46" width="12" height="12" fill="#808080"/>
<rect x="428.13" y="1400.21" width="12" height="12" fill="#808080"/>
<path d="M232.26 1271.31 L233.53 1271.38 L234.8 1271.44 L236.07 1271.51 L237.34 1271.58 L238.61 1271.66 L239.87 1271.74 L241.14 1271.82 L242.41 1271.9 L243.68 1271.99 L244.95 1272.08 L246.22 1272.18 L247.49 1272.28 L248.76 1272.38 L250.03 1272.49 L251.3 1272.61 L252.57 1272.72 L253.84 1272.85 L255.1 1272.97 L256.37 1273.11 L257.64 1273.25 L258.91 1273.39 L260.18 1273.54 L261.45 1273.7 L262.72 1273.86 L263.99 1274.03 L265.26 1274.2 L266.53 1274.39 L267.8 1274.58 L269.07 1274.78 L270.33 1274.98 L271.6 1275.2 L272.87 1275.42 L274.14 1275.65 L275.41 1275.9 L276.68 1276.15 L277.95 1276.41 L279.22 1276.68 L280.49 1276.96 L281.76 1277.25 L283.03 1277.56 L284.3 1277.87 L285.56 1278.2 L286.83 1278.54 L288.1 1278.89 L289.37 1279.26 L290.64 1279.64 L291.91 1280.04 L293.18 1280.45 L294.45 1280.87 L295.72 1281.31 L296.99 1281.77 L298.26 1282.24 L299.53 1282.73 L300.79 1283.24 L302.06 1283.76 L303.33 1284.31 L304.6 1284.87 L305.87 1285.45 L307.14 1286.06 L308.41 1286.68 L309.68 1287.32 L310.95 1287.99 L312.22 1288.67 L313.49 1289.38 L314.75 1290.11 L316.02 1290.87 L317.29 1291.65 L318.56 1292.45 L319.83 1293.27 L321.1 1294.12 L322.37 1295 L323.64 1295.9 L324.91 1296.83 L326.18 1297.78 L327.45 1298.76 L328.72 1299.76 L329.98 1300.79 L331.25 1301.85 L332.52 1302.93 L333.79 1304.04 L335.06 1305.17 L336.33 1306.33 L337.6 1307.52 L338.87 1308.74 L340.14 1309.97 L341.41 1311.24 L342.68 1312.53 L343.95 1313.84 L345.21 1315.18 L346.48 1316.54 L347.75 1317.92 L349.02 1319.33 L350.29 1320.76 L351.56 1322.2 L352.83 1323.67 L354.1 1325.16 L355.37 1326.66 L356.64 1328.18 L357.91 1329.71 L359.18 1331.26 L360.44 1332.83 L361.71 1334.4 L362.98 1335.99 L364.25 1337.59 L365.52 1339.19 L366.79 1340.8 L368.06 1342.42 L369.33 1344.04 L370.6 1345.66 L371.87 1347.28 L373.14 1348.9 L374.41 1350.52 L375.67 1352.14 L376.94 1353.76 L378.21 1355.36 L379.48 1356.96 L380.75 1358.55 L382.02 1360.13 L383.29 1361.7 L384.56 1363.26 L385.83 1364.8 L387.1 1366.33 L388.37 1367.84 L389.63 1369.33 L390.9 1370.81 L392.17 1372.26 L393.44 1373.7 L394.71 1375.11 L395.98 1376.51 L397.25 1377.88 L398.52 1379.23 L399.79 1380.55 L401.06 1381.85 L402.33 1383.13 L403.6 1384.38 L404.86 1385.6 L406.13 1386.8 L407.4 1387.97 L408.67 1389.12 L409.94 1390.24 L411.21 1391.33 L412.48 1392.4 L413.75 1393.44 L415.02 1394.46 L416.29 1395.45 L417.56 1396.41 L418.83 1397.35 L420.09 1398.26 L421.36 1399.15 L422.63 1400.01 L423.9 1400.85 L425.17 1401.66 L426.44 1402.45 L427.71 1403.21 L428.98 1403.95 L430.25 1404.67 L431.52 1405.37 L432.79 1406.04 L434.06 1406.7" stroke="#808080" stroke-width="3.3" stroke-linecap="round" stroke-linejoin="round" fill="none"/>
</g>
<text transform="translate(165.26 1420.07) scale(1 1.05)" font-size="27.3" text-anchor="end">0</text>
<text transform="translate(165.26 1346.7) scale(1 1.05)" font-size="27.3" text-anchor="end">50</text>
<text transform="translate(165.26 1273.34) scale(1 1.05)" font-size="27.3" text-anchor="end">100</text>
<text transform="translate(165.26 1199.97) scale(1 1.05)" font-size="27.3" text-anchor="end">150</text>
<text transform="translate(186.25 1466.97) scale(1 1.05)" font-size="27.3">10</text>
<text transform="translate(218.82 1457.97) scale(1 1.05)" font-size="18.2">-2</text>
<text transform="translate(242.13 1466.97) scale(1 1.05)" font-size="27.3">10</text>
<text transform="translate(274.7 1457.97) scale(1 1.05)" font-size="18.2">-1</text>
<text transform="translate(301.03 1466.97) scale(1 1.05)" font-size="27.3">10</text>
<text transform="translate(333.6 1457.97) scale(1 1.05)" font-size="18.2">0</text>
<text transform="translate(356.91 1466.97) scale(1 1.05)" font-size="27.3">10</text>
<text transform="translate(389.48 1457.97) scale(1 1.05)" font-size="18.2">1</text>
<text transform="translate(412.78 1466.97) scale(1 1.05)" font-size="27.3">10</text>
<text transform="translate(445.35 1457.97) scale(1 1.05)" font-size="18.2">2</text>
<text transform="translate(210.05 1396.74) scale(1 1.05)" font-size="23.3"><tspan font-style="italic">R</tspan><tspan font-size="15.4" dy="-7.5">2</tspan><tspan dy="7.5">=0.9437</tspan></text>
</g>
<g>
<text transform="translate(682.58 1168.47) scale(1 1.05)" font-size="27.3" text-anchor="middle">AGP-R7</text>
<path d="M554.74 1186.87V1412.57M530.68 1409.87H814.11M530.68 1336.5H554.74M530.68 1263.14H554.74M530.68 1189.77H554.74M570.74 1409.87V1433.64M626.62 1409.87V1433.64M682.49 1409.87V1433.64M738.37 1409.87V1433.64M794.24 1409.87V1433.64" stroke="#000" stroke-width="5.8" stroke-linecap="round" fill="none"/>
<path d="M571.59 1336.2H807.29" stroke="#000" stroke-width="5.5" stroke-linecap="round" stroke-dasharray="0 16.8" fill="none"/>
<g clip-path="url(#cp1_3)">
<path d="M592.85 1281.42h.01M600.74 1282.41h.01M608.7 1283.25h.01M616.57 1284.26h.01M624.44 1285.28h.01M632.24 1286.44h.01M639.92 1287.81h.01M647.7 1288.99h.01M655.28 1290.52h.01M662.96 1291.89h.01M670.64 1293.25h.01M677.71 1295.51h.01M684.09 1298.58h.01M689.99 1302.46h.01M695.54 1306.82h.01M700.92 1311.39h.01M705.98 1316.31h.01M710.62 1321.63h.01M715.01 1327.15h.01M719.83 1332.3h.01M724.48 1337.62h.01M729.37 1342.71h.01M734.19 1347.86h.01M738.97 1353.05h.01M743.98 1358.02h.01M748.99 1363h.01M753.82 1368.15h.01M758.79 1373.16h.01M763.85 1378.08h.01M769.81 1381.83h.01M776.99 1383.93h.01M784.81 1385.03h.01M793 1385.34h.01" stroke="#000" stroke-width="3.3" stroke-linecap="round" fill="none"/>
<path d="M592.85 1311.21h.01M601.18 1311.21h.01M609.41 1310.93h.01M617.64 1310.66h.01M625.97 1310.67h.01M634.19 1310.96h.01M642.25 1311.65h.01M650 1312.95h.01M657.07 1315.23h.01M663.72 1317.99h.01M670.2 1320.97h.01M676.05 1324.97h.01M681.69 1329.26h.01M687.01 1333.93h.01M692.54 1338.35h.01M697.92 1342.97h.01M703 1347.9h.01M707.97 1352.95h.01M712.81 1358.12h.01M717.56 1363.38h.01M722.04 1368.86h.01M726.17 1374.61h.01M730.62 1380.12h.01M734.92 1385.74h.01M739.78 1390.88h.01M744.58 1396.09h.01M749.95 1400.7h.01M755.81 1404.67h.01M762.8 1407.03h.01" stroke="#000" stroke-width="3.3" stroke-linecap="round" fill="none"/>
<path d="M592.4 1303.39V1316.43M586.7 1303.39h11.4M586.7 1316.43h11.4" stroke="#808080" stroke-width="3" stroke-linecap="round" fill="none"/>
<rect x="586.4" y="1303.98" width="12" height="12" fill="#808080"/>
<path d="M626.04 1267.7V1291.03M620.34 1267.7h11.4M620.34 1291.03h11.4" stroke="#808080" stroke-width="3" stroke-linecap="round" fill="none"/>
<rect x="620.04" y="1273.09" width="12" height="12" fill="#808080"/>
<path d="M659.68 1295.56V1321.65M653.98 1295.56h11.4M653.98 1321.65h11.4" stroke="#808080" stroke-width="3" stroke-linecap="round" fill="none"/>
<rect x="653.68" y="1302.88" width="12" height="12" fill="#808080"/>
<path d="M693.32 1310.25V1335.65M687.62 1310.25h11.4M687.62 1335.65h11.4" stroke="#808080" stroke-width="3" stroke-linecap="round" fill="none"/>
<rect x="687.32" y="1317.02" width="12" height="12" fill="#808080"/>
<rect x="720.96" y="1350.24" width="12" height="12" fill="#808080"/>
<rect x="754.6" y="1387.03" width="12" height="12" fill="#808080"/>
<rect x="788.24" y="1398.01" width="12" height="12" fill="#808080"/>
<path d="M592.85 1296.6 L594.12 1296.63 L595.38 1296.66 L596.65 1296.68 L597.92 1296.71 L599.19 1296.74 L600.45 1296.78 L601.72 1296.81 L602.99 1296.85 L604.25 1296.89 L605.52 1296.93 L606.79 1296.97 L608.06 1297.02 L609.32 1297.06 L610.59 1297.11 L611.86 1297.17 L613.13 1297.22 L614.39 1297.28 L615.66 1297.34 L616.93 1297.41 L618.2 1297.48 L619.46 1297.55 L620.73 1297.63 L622 1297.71 L623.27 1297.8 L624.53 1297.89 L625.8 1297.99 L627.07 1298.09 L628.34 1298.19 L629.6 1298.31 L630.87 1298.42 L632.14 1298.55 L633.41 1298.68 L634.67 1298.82 L635.94 1298.96 L637.21 1299.12 L638.48 1299.28 L639.74 1299.45 L641.01 1299.63 L642.28 1299.82 L643.55 1300.02 L644.81 1300.23 L646.08 1300.45 L647.35 1300.68 L648.61 1300.92 L649.88 1301.18 L651.15 1301.45 L652.42 1301.73 L653.68 1302.03 L654.95 1302.34 L656.22 1302.67 L657.49 1303.01 L658.75 1303.37 L660.02 1303.75 L661.29 1304.15 L662.56 1304.57 L663.82 1305 L665.09 1305.46 L666.36 1305.94 L667.63 1306.44 L668.89 1306.96 L670.16 1307.5 L671.43 1308.08 L672.7 1308.67 L673.96 1309.29 L675.23 1309.94 L676.5 1310.62 L677.77 1311.32 L679.03 1312.06 L680.3 1312.82 L681.57 1313.61 L682.84 1314.43 L684.1 1315.29 L685.37 1316.17 L686.64 1317.09 L687.91 1318.04 L689.17 1319.02 L690.44 1320.04 L691.71 1321.09 L692.97 1322.17 L694.24 1323.28 L695.51 1324.42 L696.78 1325.6 L698.04 1326.81 L699.31 1328.04 L700.58 1329.31 L701.85 1330.61 L703.11 1331.93 L704.38 1333.28 L705.65 1334.66 L706.92 1336.06 L708.18 1337.49 L709.45 1338.93 L710.72 1340.4 L711.99 1341.88 L713.25 1343.38 L714.52 1344.89 L715.79 1346.42 L717.06 1347.95 L718.32 1349.49 L719.59 1351.03 L720.86 1352.58 L722.13 1354.13 L723.39 1355.67 L724.66 1357.21 L725.93 1358.75 L727.2 1360.27 L728.46 1361.79 L729.73 1363.29 L731 1364.77 L732.27 1366.24 L733.53 1367.69 L734.8 1369.12 L736.07 1370.52 L737.33 1371.91 L738.6 1373.26 L739.87 1374.59 L741.14 1375.89 L742.4 1377.17 L743.67 1378.41 L744.94 1379.62 L746.21 1380.8 L747.47 1381.95 L748.74 1383.07 L750.01 1384.16 L751.28 1385.21 L752.54 1386.23 L753.81 1387.22 L755.08 1388.17 L756.35 1389.1 L757.61 1389.99 L758.88 1390.85 L760.15 1391.68 L761.42 1392.47 L762.68 1393.24 L763.95 1393.98 L765.22 1394.69 L766.49 1395.37 L767.75 1396.03 L769.02 1396.65 L770.29 1397.25 L771.56 1397.83 L772.82 1398.38 L774.09 1398.91 L775.36 1399.41 L776.63 1399.89 L777.89 1400.35 L779.16 1400.79 L780.43 1401.21 L781.69 1401.61 L782.96 1401.99 L784.23 1402.36 L785.5 1402.7 L786.76 1403.03 L788.03 1403.35 L789.3 1403.65 L790.57 1403.93 L791.83 1404.21 L793.1 1404.46 L794.37 1404.71" stroke="#808080" stroke-width="3.3" stroke-linecap="round" stroke-linejoin="round" fill="none"/>
</g>
<text transform="translate(525.84 1420.07) scale(1 1.05)" font-size="27.3" text-anchor="end">0</text>
<text transform="translate(525.84 1346.7) scale(1 1.05)" font-size="27.3" text-anchor="end">50</text>
<text transform="translate(525.84 1273.34) scale(1 1.05)" font-size="27.3" text-anchor="end">100</text>
<text transform="translate(525.84 1199.97) scale(1 1.05)" font-size="27.3" text-anchor="end">150</text>
<text transform="translate(546.36 1466.97) scale(1 1.05)" font-size="27.3">10</text>
<text transform="translate(578.93 1457.97) scale(1 1.05)" font-size="18.2">-2</text>
<text transform="translate(602.24 1466.97) scale(1 1.05)" font-size="27.3">10</text>
<text transform="translate(634.81 1457.97) scale(1 1.05)" font-size="18.2">-1</text>
<text transform="translate(661.14 1466.97) scale(1 1.05)" font-size="27.3">10</text>
<text transform="translate(693.71 1457.97) scale(1 1.05)" font-size="18.2">0</text>
<text transform="translate(717.02 1466.97) scale(1 1.05)" font-size="27.3">10</text>
<text transform="translate(749.59 1457.97) scale(1 1.05)" font-size="18.2">1</text>
<text transform="translate(772.89 1466.97) scale(1 1.05)" font-size="27.3">10</text>
<text transform="translate(805.46 1457.97) scale(1 1.05)" font-size="18.2">2</text>
<text transform="translate(569.7 1396.74) scale(1 1.05)" font-size="23.3"><tspan font-style="italic">R</tspan><tspan font-size="15.4" dy="-7.5">2</tspan><tspan dy="7.5">=0.8808</tspan></text>
</g>
<g>
<text transform="translate(1042.81 1168.47) scale(1 1.05)" font-size="27.3" text-anchor="middle">AGP-R12</text>
<path d="M914.92 1186.87V1412.57M890.86 1409.87H1174.29M890.86 1336.5H914.92M890.86 1263.14H914.92M890.86 1189.77H914.92M931.02 1409.87V1433.64M986.89 1409.87V1433.64M1042.77 1409.87V1433.64M1098.64 1409.87V1433.64M1154.52 1409.87V1433.64" stroke="#000" stroke-width="5.8" stroke-linecap="round" fill="none"/>
<path d="M931.77 1336.2H1167.47" stroke="#000" stroke-width="5.5" stroke-linecap="round" stroke-dasharray="0 16.8" fill="none"/>
<g clip-path="url(#cp2_3)">
<path d="M952.99 1248.89h.01M961.41 1248.89h.01M969.83 1248.89h.01M978.25 1248.89h.01M986.67 1248.89h.01M995.09 1248.89h.01M1003.51 1248.89h.01M1011.88 1249.03h.01M1020.25 1249.17h.01M1028.56 1249.48h.01M1036.74 1250.08h.01M1044.82 1250.91h.01M1052.88 1251.8h.01M1060.9 1252.76h.01M1068.8 1253.94h.01M1076.61 1255.29h.01M1083.89 1257.4h.01M1089.69 1261.56h.01M1094.74 1266.63h.01M1098.53 1272.68h.01M1101.44 1279.22h.01M1104.27 1285.79h.01M1107.01 1292.41h.01M1109.84 1298.99h.01M1112.81 1305.5h.01M1115.47 1312.15h.01M1118.32 1318.72h.01M1121.1 1325.31h.01M1124.2 1331.77h.01M1126.94 1338.38h.01M1129.58 1345.03h.01M1133.17 1351.22h.01M1136.85 1357.36h.01M1141.25 1362.98h.01M1146.36 1367.99h.01M1152.72 1371.34h.01" stroke="#000" stroke-width="3.3" stroke-linecap="round" fill="none"/>
<path d="M952.99 1268.38h.01M961.33 1268.38h.01M969.67 1268.38h.01M978.02 1268.38h.01M986.36 1268.38h.01M994.7 1268.38h.01M1003.05 1268.38h.01M1011.39 1268.38h.01M1019.74 1268.38h.01M1028.08 1268.38h.01M1036.42 1268.38h.01M1044.77 1268.38h.01M1052.76 1269.2h.01M1060.15 1271.08h.01M1066.4 1274.49h.01M1072.27 1278.47h.01M1077.59 1283.16h.01M1082.38 1288.39h.01M1086.3 1294.29h.01M1090.25 1300.19h.01M1093.92 1306.26h.01M1097.4 1312.44h.01M1100.84 1318.65h.01M1104.31 1324.84h.01M1107.56 1331.14h.01M1110.3 1337.68h.01M1112.98 1344.25h.01M1115.76 1350.78h.01M1118.82 1357.18h.01M1121.79 1363.62h.01M1124.5 1370.17h.01M1127.58 1376.56h.01M1130.82 1382.87h.01M1134.7 1388.81h.01M1139.39 1394.12h.01M1144.42 1399.13h.01M1149.56 1404.01h.01" stroke="#000" stroke-width="3.3" stroke-linecap="round" fill="none"/>
<path d="M952.68 1245.05V1265.64M946.98 1245.05h11.4M946.98 1265.64h11.4" stroke="#808080" stroke-width="3" stroke-linecap="round" fill="none"/>
<rect x="946.68" y="1249.34" width="12" height="12" fill="#808080"/>
<rect x="980.32" y="1245.91" width="12" height="12" fill="#808080"/>
<path d="M1019.96 1253.28V1274.97M1014.26 1253.28h11.4M1014.26 1274.97h11.4" stroke="#808080" stroke-width="3" stroke-linecap="round" fill="none"/>
<rect x="1013.96" y="1258.27" width="12" height="12" fill="#808080"/>
<path d="M1053.6 1261.25V1272.23M1047.9 1261.25h11.4M1047.9 1272.23h11.4" stroke="#808080" stroke-width="3" stroke-linecap="round" fill="none"/>
<rect x="1047.6" y="1260.74" width="12" height="12" fill="#808080"/>
<path d="M1087.24 1258.5V1292.41M1081.54 1258.5h11.4M1081.54 1292.41h11.4" stroke="#808080" stroke-width="3" stroke-linecap="round" fill="none"/>
<rect x="1081.24" y="1269.93" width="12" height="12" fill="#808080"/>
<path d="M1120.88 1338.39V1351.85M1115.18 1338.39h11.4M1115.18 1351.85h11.4" stroke="#808080" stroke-width="3" stroke-linecap="round" fill="none"/>
<rect x="1114.88" y="1339.26" width="12" height="12" fill="#808080"/>
<rect x="1148.52" y="1383.87" width="12" height="12" fill="#808080"/>
<path d="M952.99 1258.96 L954.25 1258.96 L955.52 1258.96 L956.79 1258.96 L958.06 1258.96 L959.33 1258.96 L960.6 1258.96 L961.87 1258.96 L963.14 1258.96 L964.41 1258.96 L965.68 1258.96 L966.95 1258.96 L968.22 1258.96 L969.48 1258.96 L970.75 1258.96 L972.02 1258.96 L973.29 1258.96 L974.56 1258.96 L975.83 1258.96 L977.1 1258.96 L978.37 1258.97 L979.64 1258.97 L980.91 1258.97 L982.18 1258.97 L983.44 1258.97 L984.71 1258.97 L985.98 1258.97 L987.25 1258.98 L988.52 1258.98 L989.79 1258.98 L991.06 1258.98 L992.33 1258.98 L993.6 1258.99 L994.87 1258.99 L996.14 1258.99 L997.41 1259 L998.67 1259 L999.94 1259.01 L1001.21 1259.01 L1002.48 1259.02 L1003.75 1259.02 L1005.02 1259.03 L1006.29 1259.04 L1007.56 1259.04 L1008.83 1259.05 L1010.1 1259.06 L1011.37 1259.07 L1012.64 1259.08 L1013.9 1259.09 L1015.17 1259.11 L1016.44 1259.12 L1017.71 1259.14 L1018.98 1259.15 L1020.25 1259.17 L1021.52 1259.19 L1022.79 1259.21 L1024.06 1259.24 L1025.33 1259.26 L1026.6 1259.29 L1027.87 1259.32 L1029.13 1259.36 L1030.4 1259.39 L1031.67 1259.43 L1032.94 1259.48 L1034.21 1259.53 L1035.48 1259.58 L1036.75 1259.64 L1038.02 1259.7 L1039.29 1259.77 L1040.56 1259.84 L1041.83 1259.93 L1043.1 1260.01 L1044.36 1260.11 L1045.63 1260.22 L1046.9 1260.33 L1048.17 1260.46 L1049.44 1260.6 L1050.71 1260.74 L1051.98 1260.91 L1053.25 1261.09 L1054.52 1261.28 L1055.79 1261.49 L1057.06 1261.72 L1058.33 1261.97 L1059.59 1262.24 L1060.86 1262.53 L1062.13 1262.85 L1063.4 1263.2 L1064.67 1263.58 L1065.94 1263.99 L1067.21 1264.44 L1068.48 1264.92 L1069.75 1265.45 L1071.02 1266.02 L1072.29 1266.63 L1073.55 1267.3 L1074.82 1268.01 L1076.09 1268.79 L1077.36 1269.63 L1078.63 1270.53 L1079.9 1271.5 L1081.17 1272.54 L1082.44 1273.66 L1083.71 1274.86 L1084.98 1276.14 L1086.25 1277.51 L1087.52 1278.97 L1088.78 1280.53 L1090.05 1282.18 L1091.32 1283.93 L1092.59 1285.78 L1093.86 1287.73 L1095.13 1289.79 L1096.4 1291.95 L1097.67 1294.2 L1098.94 1296.56 L1100.21 1299.01 L1101.48 1301.56 L1102.75 1304.19 L1104.01 1306.89 L1105.28 1309.68 L1106.55 1312.52 L1107.82 1315.42 L1109.09 1318.36 L1110.36 1321.34 L1111.63 1324.34 L1112.9 1327.36 L1114.17 1330.37 L1115.44 1333.37 L1116.71 1336.34 L1117.98 1339.29 L1119.24 1342.18 L1120.51 1345.03 L1121.78 1347.8 L1123.05 1350.51 L1124.32 1353.13 L1125.59 1355.67 L1126.86 1358.12 L1128.13 1360.47 L1129.4 1362.72 L1130.67 1364.88 L1131.94 1366.93 L1133.21 1368.87 L1134.47 1370.72 L1135.74 1372.47 L1137.01 1374.11 L1138.28 1375.66 L1139.55 1377.12 L1140.82 1378.49 L1142.09 1379.76 L1143.36 1380.96 L1144.63 1382.07 L1145.9 1383.11 L1147.17 1384.08 L1148.44 1384.98 L1149.7 1385.81 L1150.97 1386.58 L1152.24 1387.3 L1153.51 1387.96 L1154.78 1388.57" stroke="#808080" stroke-width="3.3" stroke-linecap="round" stroke-linejoin="round" fill="none"/>
</g>
<text transform="translate(886.02 1420.07) scale(1 1.05)" font-size="27.3" text-anchor="end">0</text>
<text transform="translate(886.02 1346.7) scale(1 1.05)" font-size="27.3" text-anchor="end">50</text>
<text transform="translate(886.02 1273.34) scale(1 1.05)" font-size="27.3" text-anchor="end">100</text>
<text transform="translate(886.02 1199.97) scale(1 1.05)" font-size="27.3" text-anchor="end">150</text>
<text transform="translate(906.64 1466.97) scale(1 1.05)" font-size="27.3">10</text>
<text transform="translate(939.21 1457.97) scale(1 1.05)" font-size="18.2">-2</text>
<text transform="translate(962.52 1466.97) scale(1 1.05)" font-size="27.3">10</text>
<text transform="translate(995.09 1457.97) scale(1 1.05)" font-size="18.2">-1</text>
<text transform="translate(1021.42 1466.97) scale(1 1.05)" font-size="27.3">10</text>
<text transform="translate(1053.99 1457.97) scale(1 1.05)" font-size="18.2">0</text>
<text transform="translate(1077.3 1466.97) scale(1 1.05)" font-size="27.3">10</text>
<text transform="translate(1109.87 1457.97) scale(1 1.05)" font-size="18.2">1</text>
<text transform="translate(1133.17 1466.97) scale(1 1.05)" font-size="27.3">10</text>
<text transform="translate(1165.74 1457.97) scale(1 1.05)" font-size="18.2">2</text>
<text transform="translate(931.6 1396.74) scale(1 1.05)" font-size="23.3"><tspan font-style="italic">R</tspan><tspan font-size="15.4" dy="-7.5">2</tspan><tspan dy="7.5">=0.9273</tspan></text>
</g>
<g>
<text transform="translate(1403.08 1168.47) scale(1 1.05)" font-size="27.3" text-anchor="middle">AGP-R15</text>
<path d="M1275.3 1186.87V1412.57M1251.24 1409.87H1534.67M1251.24 1336.5H1275.3M1251.24 1263.14H1275.3M1251.24 1189.77H1275.3M1291.4 1409.87V1433.64M1347.27 1409.87V1433.64M1403.15 1409.87V1433.64M1459.02 1409.87V1433.64M1514.9 1409.87V1433.64" stroke="#000" stroke-width="5.8" stroke-linecap="round" fill="none"/>
<path d="M1292.15 1336.2H1527.85" stroke="#000" stroke-width="5.5" stroke-linecap="round" stroke-dasharray="0 16.8" fill="none"/>
<g clip-path="url(#cp3_3)">
<path d="M1313.26 1265.23h.01M1321.47 1265.66h.01M1329.58 1266.31h.01M1337.5 1267.37h.01M1345.55 1268.17h.01M1353.56 1269.04h.01M1361.21 1270.57h.01M1368.79 1272.21h.01M1376.57 1273.54h.01M1384.37 1274.81h.01M1392 1276.38h.01M1399.29 1278.44h.01M1406.38 1280.76h.01M1412.78 1283.91h.01M1418.74 1287.79h.01M1424.08 1292.48h.01M1428.84 1297.77h.01M1433.19 1303.39h.01M1437.42 1309.1h.01M1441.65 1314.83h.01M1445.87 1320.56h.01M1450.11 1326.28h.01M1454.57 1331.82h.01M1459.04 1337.36h.01M1463.42 1342.97h.01M1467.64 1348.7h.01M1471.96 1354.36h.01M1476.37 1359.95h.01M1480.88 1365.46h.01M1485.33 1371.01h.01M1490.39 1376.01h.01M1496 1380.38h.01M1502.6 1383.28h.01M1510.25 1384.79h.01" stroke="#000" stroke-width="3.3" stroke-linecap="round" fill="none"/>
<path d="M1313.26 1295.29h.01M1321.55 1295.15h.01M1329.79 1294.88h.01M1338.13 1294.88h.01M1346.47 1294.88h.01M1354.81 1294.88h.01M1363.04 1295.17h.01M1371.22 1295.59h.01M1378.72 1297.28h.01M1385.67 1299.72h.01M1391.95 1303.02h.01M1398.09 1306.55h.01M1403.89 1310.63h.01M1409.3 1315.21h.01M1414.58 1319.95h.01M1419.8 1324.74h.01M1424.6 1329.95h.01M1429.2 1335.35h.01M1433.84 1340.71h.01M1438.65 1345.92h.01M1443 1351.51h.01M1446.99 1357.37h.01M1450.64 1363.45h.01M1454.58 1369.33h.01M1458.59 1375.18h.01M1462.6 1381.03h.01M1466.58 1386.89h.01M1470.7 1392.67h.01M1475.43 1397.94h.01M1480.73 1402.64h.01M1486.5 1406.76h.01" stroke="#000" stroke-width="3.3" stroke-linecap="round" fill="none"/>
<path d="M1313.06 1273.6V1300.64M1307.36 1273.6h11.4M1307.36 1300.64h11.4" stroke="#808080" stroke-width="3" stroke-linecap="round" fill="none"/>
<rect x="1307.06" y="1280.92" width="12" height="12" fill="#808080"/>
<path d="M1346.7 1259.19V1298.58M1341 1259.19h11.4M1341 1298.58h11.4" stroke="#808080" stroke-width="3" stroke-linecap="round" fill="none"/>
<rect x="1340.7" y="1272.95" width="12" height="12" fill="#808080"/>
<path d="M1380.34 1265.64V1293.78M1374.64 1265.64h11.4M1374.64 1293.78h11.4" stroke="#808080" stroke-width="3" stroke-linecap="round" fill="none"/>
<rect x="1374.34" y="1273.78" width="12" height="12" fill="#808080"/>
<path d="M1413.98 1295.84V1312.31M1408.28 1295.84h11.4M1408.28 1312.31h11.4" stroke="#808080" stroke-width="3" stroke-linecap="round" fill="none"/>
<rect x="1407.98" y="1298.08" width="12" height="12" fill="#808080"/>
<rect x="1441.62" y="1336.51" width="12" height="12" fill="#808080"/>
<path d="M1481.26 1375.87V1388.77M1475.56 1375.87h11.4M1475.56 1388.77h11.4" stroke="#808080" stroke-width="3" stroke-linecap="round" fill="none"/>
<rect x="1475.26" y="1376.32" width="12" height="12" fill="#808080"/>
<rect x="1508.9" y="1401.17" width="12" height="12" fill="#808080"/>
<path d="M1313.26 1280.56 L1314.53 1280.58 L1315.8 1280.6 L1317.07 1280.62 L1318.34 1280.64 L1319.61 1280.67 L1320.87 1280.69 L1322.14 1280.72 L1323.41 1280.75 L1324.68 1280.78 L1325.95 1280.81 L1327.22 1280.84 L1328.49 1280.88 L1329.76 1280.92 L1331.03 1280.96 L1332.3 1281 L1333.57 1281.04 L1334.84 1281.09 L1336.1 1281.14 L1337.37 1281.19 L1338.64 1281.25 L1339.91 1281.3 L1341.18 1281.36 L1342.45 1281.43 L1343.72 1281.5 L1344.99 1281.57 L1346.26 1281.64 L1347.53 1281.72 L1348.8 1281.81 L1350.07 1281.89 L1351.33 1281.99 L1352.6 1282.09 L1353.87 1282.19 L1355.14 1282.3 L1356.41 1282.42 L1357.68 1282.54 L1358.95 1282.67 L1360.22 1282.8 L1361.49 1282.94 L1362.76 1283.09 L1364.03 1283.25 L1365.3 1283.42 L1366.56 1283.59 L1367.83 1283.78 L1369.1 1283.97 L1370.37 1284.18 L1371.64 1284.4 L1372.91 1284.62 L1374.18 1284.86 L1375.45 1285.11 L1376.72 1285.38 L1377.99 1285.66 L1379.26 1285.95 L1380.53 1286.26 L1381.79 1286.58 L1383.06 1286.92 L1384.33 1287.28 L1385.6 1287.65 L1386.87 1288.05 L1388.14 1288.46 L1389.41 1288.89 L1390.68 1289.35 L1391.95 1289.83 L1393.22 1290.33 L1394.49 1290.85 L1395.75 1291.4 L1397.02 1291.97 L1398.29 1292.57 L1399.56 1293.2 L1400.83 1293.85 L1402.1 1294.53 L1403.37 1295.25 L1404.64 1295.99 L1405.91 1296.77 L1407.18 1297.58 L1408.45 1298.42 L1409.72 1299.3 L1410.98 1300.21 L1412.25 1301.16 L1413.52 1302.14 L1414.79 1303.16 L1416.06 1304.22 L1417.33 1305.31 L1418.6 1306.45 L1419.87 1307.62 L1421.14 1308.83 L1422.41 1310.07 L1423.68 1311.36 L1424.95 1312.68 L1426.21 1314.05 L1427.48 1315.44 L1428.75 1316.88 L1430.02 1318.35 L1431.29 1319.86 L1432.56 1321.4 L1433.83 1322.97 L1435.1 1324.57 L1436.37 1326.21 L1437.64 1327.87 L1438.91 1329.55 L1440.18 1331.26 L1441.44 1333 L1442.71 1334.75 L1443.98 1336.52 L1445.25 1338.31 L1446.52 1340.1 L1447.79 1341.91 L1449.06 1343.73 L1450.33 1345.55 L1451.6 1347.37 L1452.87 1349.19 L1454.14 1351.01 L1455.41 1352.82 L1456.67 1354.63 L1457.94 1356.42 L1459.21 1358.2 L1460.48 1359.96 L1461.75 1361.7 L1463.02 1363.43 L1464.29 1365.12 L1465.56 1366.8 L1466.83 1368.44 L1468.1 1370.06 L1469.37 1371.65 L1470.63 1373.21 L1471.9 1374.73 L1473.17 1376.22 L1474.44 1377.67 L1475.71 1379.08 L1476.98 1380.46 L1478.25 1381.81 L1479.52 1383.11 L1480.79 1384.38 L1482.06 1385.61 L1483.33 1386.8 L1484.6 1387.95 L1485.86 1389.06 L1487.13 1390.14 L1488.4 1391.17 L1489.67 1392.17 L1490.94 1393.14 L1492.21 1394.07 L1493.48 1394.96 L1494.75 1395.82 L1496.02 1396.65 L1497.29 1397.44 L1498.56 1398.2 L1499.83 1398.93 L1501.09 1399.63 L1502.36 1400.29 L1503.63 1400.93 L1504.9 1401.55 L1506.17 1402.13 L1507.44 1402.69 L1508.71 1403.23 L1509.98 1403.74 L1511.25 1404.23 L1512.52 1404.69 L1513.79 1405.13 L1515.06 1405.56" stroke="#808080" stroke-width="3.3" stroke-linecap="round" stroke-linejoin="round" fill="none"/>
</g>
<text transform="translate(1246.4 1420.07) scale(1 1.05)" font-size="27.3" text-anchor="end">0</text>
<text transform="translate(1246.4 1346.7) scale(1 1.05)" font-size="27.3" text-anchor="end">50</text>
<text transform="translate(1246.4 1273.34) scale(1 1.05)" font-size="27.3" text-anchor="end">100</text>
<text transform="translate(1246.4 1199.97) scale(1 1.05)" font-size="27.3" text-anchor="end">150</text>
<text transform="translate(1267.02 1466.97) scale(1 1.05)" font-size="27.3">10</text>
<text transform="translate(1299.59 1457.97) scale(1 1.05)" font-size="18.2">-2</text>
<text transform="translate(1322.9 1466.97) scale(1 1.05)" font-size="27.3">10</text>
<text transform="translate(1355.47 1457.97) scale(1 1.05)" font-size="18.2">-1</text>
<text transform="translate(1381.8 1466.97) scale(1 1.05)" font-size="27.3">10</text>
<text transform="translate(1414.37 1457.97) scale(1 1.05)" font-size="18.2">0</text>
<text transform="translate(1437.68 1466.97) scale(1 1.05)" font-size="27.3">10</text>
<text transform="translate(1470.25 1457.97) scale(1 1.05)" font-size="18.2">1</text>
<text transform="translate(1493.55 1466.97) scale(1 1.05)" font-size="27.3">10</text>
<text transform="translate(1526.12 1457.97) scale(1 1.05)" font-size="18.2">2</text>
<text transform="translate(1289.7 1396.74) scale(1 1.05)" font-size="23.3"><tspan font-style="italic">R</tspan><tspan font-size="15.4" dy="-7.5">2</tspan><tspan dy="7.5">=0.8957</tspan></text>
</g>
<g>
<text transform="translate(1763.52 1168.47) scale(1 1.05)" font-size="27.3" text-anchor="middle">AGP-R17</text>
<path d="M1635.68 1186.87V1412.57M1611.62 1409.87H1895.05M1611.62 1336.5H1635.68M1611.62 1263.14H1635.68M1611.62 1189.77H1635.68M1651.88 1409.87V1433.64M1707.76 1409.87V1433.64M1763.63 1409.87V1433.64M1819.51 1409.87V1433.64M1875.38 1409.87V1433.64" stroke="#000" stroke-width="5.8" stroke-linecap="round" fill="none"/>
<path d="M1652.53 1336.2H1888.23" stroke="#000" stroke-width="5.5" stroke-linecap="round" stroke-dasharray="0 16.8" fill="none"/>
<g clip-path="url(#cp4_3)">
<path d="M1673.69 1280.74h.01M1681.93 1281.02h.01M1690.12 1281.44h.01M1698.19 1282.12h.01M1706.27 1282.77h.01M1714.33 1283.5h.01M1722.28 1284.42h.01M1729.99 1285.82h.01M1737.7 1287.2h.01M1745.39 1288.62h.01M1752.99 1290.19h.01M1760.38 1292.07h.01M1767.39 1294.45h.01M1773.72 1297.67h.01M1779.28 1302.08h.01M1784.42 1306.96h.01M1789.28 1312.13h.01M1794.04 1317.39h.01M1798.57 1322.85h.01M1802.87 1328.48h.01M1807.02 1334.24h.01M1811.23 1339.95h.01M1815.51 1345.61h.01M1819.77 1351.28h.01M1824.03 1356.95h.01M1828.26 1362.65h.01M1832.75 1368.13h.01M1837.41 1373.48h.01M1841.95 1378.93h.01M1847.36 1383.48h.01M1853.36 1387.27h.01M1859.35 1391.06h.01M1865.89 1393.99h.01M1873.43 1395.64h.01" stroke="#000" stroke-width="3.3" stroke-linecap="round" fill="none"/>
<path d="M1673.69 1297.21h.01M1681.98 1297.21h.01M1690.26 1297.21h.01M1698.54 1297.21h.01M1706.77 1297.36h.01M1714.96 1297.63h.01M1723.14 1297.9h.01M1731.04 1298.82h.01M1738.92 1299.79h.01M1746.51 1301.26h.01M1753.2 1303.92h.01M1759.58 1306.96h.01M1765.56 1310.68h.01M1771.32 1314.73h.01M1776.87 1319.07h.01M1782.05 1323.83h.01M1787.02 1328.82h.01M1791.8 1333.99h.01M1796.42 1339.31h.01M1800.71 1344.9h.01M1804.66 1350.73h.01M1808.58 1356.58h.01M1812.75 1362.25h.01M1816.78 1368.03h.01M1820.71 1373.87h.01M1825.02 1379.44h.01M1829.4 1384.95h.01M1833.78 1390.46h.01M1838.57 1395.62h.01M1843.96 1400.14h.01M1849.82 1404.06h.01M1856.27 1407.03h.01" stroke="#000" stroke-width="3.3" stroke-linecap="round" fill="none"/>
<path d="M1673.54 1284.17V1296.53M1667.84 1284.17h11.4M1667.84 1296.53h11.4" stroke="#808080" stroke-width="3" stroke-linecap="round" fill="none"/>
<rect x="1667.54" y="1284.35" width="12" height="12" fill="#808080"/>
<path d="M1707.18 1282.11V1298.58M1701.48 1282.11h11.4M1701.48 1298.58h11.4" stroke="#808080" stroke-width="3" stroke-linecap="round" fill="none"/>
<rect x="1701.18" y="1284.35" width="12" height="12" fill="#808080"/>
<path d="M1740.82 1280.05V1298.58M1735.12 1280.05h11.4M1735.12 1298.58h11.4" stroke="#808080" stroke-width="3" stroke-linecap="round" fill="none"/>
<rect x="1734.82" y="1283.25" width="12" height="12" fill="#808080"/>
<path d="M1774.46 1302.02V1315.74M1768.76 1302.02h11.4M1768.76 1315.74h11.4" stroke="#808080" stroke-width="3" stroke-linecap="round" fill="none"/>
<rect x="1768.46" y="1302.88" width="12" height="12" fill="#808080"/>
<rect x="1802.1" y="1338.98" width="12" height="12" fill="#808080"/>
<rect x="1835.74" y="1381.13" width="12" height="12" fill="#808080"/>
<rect x="1869.38" y="1401.17" width="12" height="12" fill="#808080"/>
<path d="M1673.69 1289.13 L1674.96 1289.14 L1676.23 1289.16 L1677.5 1289.18 L1678.77 1289.2 L1680.04 1289.22 L1681.31 1289.24 L1682.58 1289.26 L1683.84 1289.29 L1685.11 1289.31 L1686.38 1289.34 L1687.65 1289.37 L1688.92 1289.4 L1690.19 1289.43 L1691.46 1289.46 L1692.73 1289.5 L1694 1289.54 L1695.27 1289.58 L1696.54 1289.62 L1697.81 1289.66 L1699.07 1289.71 L1700.34 1289.76 L1701.61 1289.81 L1702.88 1289.87 L1704.15 1289.92 L1705.42 1289.99 L1706.69 1290.05 L1707.96 1290.12 L1709.23 1290.19 L1710.5 1290.27 L1711.77 1290.35 L1713.04 1290.43 L1714.3 1290.52 L1715.57 1290.62 L1716.84 1290.72 L1718.11 1290.83 L1719.38 1290.94 L1720.65 1291.06 L1721.92 1291.18 L1723.19 1291.31 L1724.46 1291.45 L1725.73 1291.6 L1727 1291.75 L1728.27 1291.92 L1729.53 1292.09 L1730.8 1292.27 L1732.07 1292.46 L1733.34 1292.66 L1734.61 1292.87 L1735.88 1293.1 L1737.15 1293.33 L1738.42 1293.58 L1739.69 1293.84 L1740.96 1294.12 L1742.23 1294.41 L1743.5 1294.71 L1744.76 1295.03 L1746.03 1295.37 L1747.3 1295.72 L1748.57 1296.1 L1749.84 1296.49 L1751.11 1296.9 L1752.38 1297.33 L1753.65 1297.78 L1754.92 1298.26 L1756.19 1298.75 L1757.46 1299.27 L1758.73 1299.82 L1759.99 1300.39 L1761.26 1300.99 L1762.53 1301.62 L1763.8 1302.27 L1765.07 1302.96 L1766.34 1303.67 L1767.61 1304.42 L1768.88 1305.2 L1770.15 1306.01 L1771.42 1306.85 L1772.69 1307.73 L1773.95 1308.64 L1775.22 1309.59 L1776.49 1310.57 L1777.76 1311.59 L1779.03 1312.65 L1780.3 1313.75 L1781.57 1314.88 L1782.84 1316.05 L1784.11 1317.26 L1785.38 1318.5 L1786.65 1319.78 L1787.92 1321.1 L1789.18 1322.46 L1790.45 1323.85 L1791.72 1325.27 L1792.99 1326.73 L1794.26 1328.22 L1795.53 1329.74 L1796.8 1331.29 L1798.07 1332.87 L1799.34 1334.48 L1800.61 1336.11 L1801.88 1337.76 L1803.15 1339.43 L1804.41 1341.13 L1805.68 1342.83 L1806.95 1344.55 L1808.22 1346.28 L1809.49 1348.02 L1810.76 1349.76 L1812.03 1351.51 L1813.3 1353.25 L1814.57 1355 L1815.84 1356.73 L1817.11 1358.46 L1818.38 1360.18 L1819.64 1361.88 L1820.91 1363.57 L1822.18 1365.24 L1823.45 1366.89 L1824.72 1368.52 L1825.99 1370.12 L1827.26 1371.7 L1828.53 1373.24 L1829.8 1374.76 L1831.07 1376.25 L1832.34 1377.7 L1833.61 1379.12 L1834.87 1380.51 L1836.14 1381.86 L1837.41 1383.17 L1838.68 1384.45 L1839.95 1385.68 L1841.22 1386.89 L1842.49 1388.05 L1843.76 1389.18 L1845.03 1390.27 L1846.3 1391.32 L1847.57 1392.34 L1848.84 1393.32 L1850.1 1394.26 L1851.37 1395.17 L1852.64 1396.04 L1853.91 1396.88 L1855.18 1397.68 L1856.45 1398.46 L1857.72 1399.2 L1858.99 1399.91 L1860.26 1400.59 L1861.53 1401.24 L1862.8 1401.86 L1864.06 1402.46 L1865.33 1403.02 L1866.6 1403.57 L1867.87 1404.08 L1869.14 1404.58 L1870.41 1405.05 L1871.68 1405.5 L1872.95 1405.93 L1874.22 1406.34 L1875.49 1406.72" stroke="#808080" stroke-width="3.3" stroke-linecap="round" stroke-linejoin="round" fill="none"/>
</g>
<text transform="translate(1606.78 1420.07) scale(1 1.05)" font-size="27.3" text-anchor="end">0</text>
<text transform="translate(1606.78 1346.7) scale(1 1.05)" font-size="27.3" text-anchor="end">50</text>
<text transform="translate(1606.78 1273.34) scale(1 1.05)" font-size="27.3" text-anchor="end">100</text>
<text transform="translate(1606.78 1199.97) scale(1 1.05)" font-size="27.3" text-anchor="end">150</text>
<text transform="translate(1627.5 1466.97) scale(1 1.05)" font-size="27.3">10</text>
<text transform="translate(1660.07 1457.97) scale(1 1.05)" font-size="18.2">-2</text>
<text transform="translate(1683.38 1466.97) scale(1 1.05)" font-size="27.3">10</text>
<text transform="translate(1715.95 1457.97) scale(1 1.05)" font-size="18.2">-1</text>
<text transform="translate(1742.28 1466.97) scale(1 1.05)" font-size="27.3">10</text>
<text transform="translate(1774.85 1457.97) scale(1 1.05)" font-size="18.2">0</text>
<text transform="translate(1798.16 1466.97) scale(1 1.05)" font-size="27.3">10</text>
<text transform="translate(1830.73 1457.97) scale(1 1.05)" font-size="18.2">1</text>
<text transform="translate(1854.03 1466.97) scale(1 1.05)" font-size="27.3">10</text>
<text transform="translate(1886.6 1457.97) scale(1 1.05)" font-size="18.2">2</text>
<text transform="translate(1653.8 1396.74) scale(1 1.05)" font-size="23.3"><tspan font-style="italic">R</tspan><tspan font-size="15.4" dy="-7.5">2</tspan><tspan dy="7.5">=0.9651</tspan></text>
</g>
<g>
<text transform="translate(321.79 1530.69) scale(1 1.05)" font-size="27.3" text-anchor="middle">AGP-R4</text>
<path d="M194.16 1549.09V1774.79M170.1 1772.09H453.53M170.1 1698.72H194.16M170.1 1625.36H194.16M170.1 1551.99H194.16M210.63 1772.09V1795.86M266.5 1772.09V1795.86M322.38 1772.09V1795.86M378.25 1772.09V1795.86M434.13 1772.09V1795.86" stroke="#000" stroke-width="5.8" stroke-linecap="round" fill="none"/>
<path d="M211.01 1698.42H446.71" stroke="#000" stroke-width="5.5" stroke-linecap="round" stroke-dasharray="0 16.8" fill="none"/>
<g clip-path="url(#cp0_4)">
<rect x="226.29" y="1612.99" width="12" height="12" fill="#808080"/>
<path d="M265.93 1627.64V1648.23M260.23 1627.64h11.4M260.23 1648.23h11.4" stroke="#808080" stroke-width="3" stroke-linecap="round" fill="none"/>
<rect x="259.93" y="1631.93" width="12" height="12" fill="#808080"/>
<path d="M299.57 1618.44V1641.37M293.87 1618.44h11.4M293.87 1641.37h11.4" stroke="#808080" stroke-width="3" stroke-linecap="round" fill="none"/>
<rect x="293.57" y="1623.97" width="12" height="12" fill="#808080"/>
<path d="M333.21 1598.4V1644.8M327.51 1598.4h11.4M327.51 1644.8h11.4" stroke="#808080" stroke-width="3" stroke-linecap="round" fill="none"/>
<rect x="327.21" y="1615.46" width="12" height="12" fill="#808080"/>
<path d="M366.85 1631.48V1649.33M361.15 1631.48h11.4M361.15 1649.33h11.4" stroke="#808080" stroke-width="3" stroke-linecap="round" fill="none"/>
<rect x="360.85" y="1635.09" width="12" height="12" fill="#808080"/>
<path d="M400.49 1634.09V1673.35M394.79 1634.09h11.4M394.79 1673.35h11.4" stroke="#808080" stroke-width="3" stroke-linecap="round" fill="none"/>
<rect x="394.49" y="1647.72" width="12" height="12" fill="#808080"/>
<path d="M434.13 1643.84V1657.56M428.43 1643.84h11.4M428.43 1657.56h11.4" stroke="#808080" stroke-width="3" stroke-linecap="round" fill="none"/>
<rect x="428.13" y="1644.56" width="12" height="12" fill="#808080"/>
<path d="M232.26 1626.54 L233.53 1626.54 L234.8 1626.54 L236.07 1626.54 L237.34 1626.54 L238.61 1626.54 L239.87 1626.54 L241.14 1626.54 L242.41 1626.54 L243.68 1626.54 L244.95 1626.54 L246.22 1626.54 L247.49 1626.54 L248.76 1626.54 L250.03 1626.54 L251.3 1626.54 L252.57 1626.54 L253.84 1626.54 L255.1 1626.54 L256.37 1626.54 L257.64 1626.54 L258.91 1626.54 L260.18 1626.54 L261.45 1626.54 L262.72 1626.54 L263.99 1626.54 L265.26 1626.54 L266.53 1626.54 L267.8 1626.54 L269.07 1626.54 L270.33 1626.54 L271.6 1626.54 L272.87 1626.54 L274.14 1626.54 L275.41 1626.54 L276.68 1626.54 L277.95 1626.54 L279.22 1626.54 L280.49 1626.54 L281.76 1626.54 L283.03 1626.54 L284.3 1626.54 L285.56 1626.54 L286.83 1626.54 L288.1 1626.54 L289.37 1626.54 L290.64 1626.54 L291.91 1626.54 L293.18 1626.54 L294.45 1626.54 L295.72 1626.54 L296.99 1626.54 L298.26 1626.54 L299.53 1626.54 L300.79 1626.54 L302.06 1626.54 L303.33 1626.54 L304.6 1626.54 L305.87 1626.54 L307.14 1626.54 L308.41 1626.54 L309.68 1626.54 L310.95 1626.54 L312.22 1626.54 L313.49 1626.54 L314.75 1626.54 L316.02 1626.54 L317.29 1626.54 L318.56 1626.54 L319.83 1626.54 L321.1 1626.54 L322.37 1626.54 L323.64 1626.54 L324.91 1626.54 L326.18 1626.54 L327.45 1626.54 L328.72 1626.54 L329.98 1626.54 L331.25 1626.54 L332.52 1626.54 L333.79 1626.54 L335.06 1626.54 L336.33 1626.54 L337.6 1626.54 L338.87 1626.54 L340.14 1626.54 L341.41 1626.54 L342.68 1626.54 L343.95 1626.54 L345.21 1626.54 L346.48 1626.54 L347.75 1626.54 L349.02 1626.54 L350.29 1626.54 L351.56 1626.54 L352.83 1626.54 L354.1 1626.54 L355.37 1626.54 L356.64 1626.54 L357.91 1626.54 L359.18 1626.54 L360.44 1626.54 L361.71 1626.68 L362.98 1627.11 L364.25 1627.76 L365.52 1629.24 L366.79 1633.08 L368.06 1646.84 L369.33 1650.89 L370.6 1651.99 L371.87 1652.22 L373.14 1652.37 L374.41 1652.46 L375.67 1652.48 L376.94 1652.48 L378.21 1652.48 L379.48 1652.48 L380.75 1652.48 L382.02 1652.48 L383.29 1652.48 L384.56 1652.48 L385.83 1652.48 L387.1 1652.48 L388.37 1652.48 L389.63 1652.48 L390.9 1652.48 L392.17 1652.48 L393.44 1652.48 L394.71 1652.48 L395.98 1652.48 L397.25 1652.48 L398.52 1652.48 L399.79 1652.48 L401.06 1652.48 L402.33 1652.48 L403.6 1652.48 L404.86 1652.48 L406.13 1652.48 L407.4 1652.48 L408.67 1652.48 L409.94 1652.48 L411.21 1652.48 L412.48 1652.48 L413.75 1652.48 L415.02 1652.48 L416.29 1652.48 L417.56 1652.48 L418.83 1652.48 L420.09 1652.48 L421.36 1652.48 L422.63 1652.48 L423.9 1652.48 L425.17 1652.48 L426.44 1652.48 L427.71 1652.48 L428.98 1652.48 L430.25 1652.48 L431.52 1652.48 L432.79 1652.48 L434.06 1652.48" stroke="#808080" stroke-width="3.3" stroke-linecap="round" stroke-linejoin="round" fill="none"/>
</g>
<text transform="translate(165.26 1782.29) scale(1 1.05)" font-size="27.3" text-anchor="end">0</text>
<text transform="translate(165.26 1708.92) scale(1 1.05)" font-size="27.3" text-anchor="end">50</text>
<text transform="translate(165.26 1635.56) scale(1 1.05)" font-size="27.3" text-anchor="end">100</text>
<text transform="translate(165.26 1562.19) scale(1 1.05)" font-size="27.3" text-anchor="end">150</text>
<text transform="translate(186.25 1829.19) scale(1 1.05)" font-size="27.3">10</text>
<text transform="translate(218.82 1820.19) scale(1 1.05)" font-size="18.2">-2</text>
<text transform="translate(242.13 1829.19) scale(1 1.05)" font-size="27.3">10</text>
<text transform="translate(274.7 1820.19) scale(1 1.05)" font-size="18.2">-1</text>
<text transform="translate(301.03 1829.19) scale(1 1.05)" font-size="27.3">10</text>
<text transform="translate(333.6 1820.19) scale(1 1.05)" font-size="18.2">0</text>
<text transform="translate(356.91 1829.19) scale(1 1.05)" font-size="27.3">10</text>
<text transform="translate(389.48 1820.19) scale(1 1.05)" font-size="18.2">1</text>
<text transform="translate(412.78 1829.19) scale(1 1.05)" font-size="27.3">10</text>
<text transform="translate(445.35 1820.19) scale(1 1.05)" font-size="18.2">2</text>
<text transform="translate(210.05 1760.8) scale(1 1.05)" font-size="23.3"><tspan font-style="italic">R</tspan><tspan font-size="15.4" dy="-7.5">2</tspan><tspan dy="7.5">=0.2330</tspan></text>
</g>
<g>
<text transform="translate(684.68 1530.69) scale(1 1.05)" font-size="27.3" text-anchor="middle">AGP-R11</text>
<path d="M554.98 1549.09V1774.79M530.92 1772.09H814.35M530.92 1698.72H554.98M530.92 1625.36H554.98M530.92 1551.99H554.98M571.46 1772.09V1795.86M627.34 1772.09V1795.86M683.21 1772.09V1795.86M739.09 1772.09V1795.86M794.96 1772.09V1795.86" stroke="#000" stroke-width="5.8" stroke-linecap="round" fill="none"/>
<path d="M571.83 1698.42H807.53" stroke="#000" stroke-width="5.5" stroke-linecap="round" stroke-dasharray="0 16.8" fill="none"/>
<g clip-path="url(#cp1_4)">
<path d="M593.12 1601.83V1625.3M587.42 1601.83h11.4M587.42 1625.3h11.4" stroke="#808080" stroke-width="3" stroke-linecap="round" fill="none"/>
<rect x="587.12" y="1607.5" width="12" height="12" fill="#808080"/>
<path d="M626.76 1617.34V1644.8M621.06 1617.34h11.4M621.06 1644.8h11.4" stroke="#808080" stroke-width="3" stroke-linecap="round" fill="none"/>
<rect x="620.76" y="1625.07" width="12" height="12" fill="#808080"/>
<path d="M660.4 1598.12V1613.91M654.7 1598.12h11.4M654.7 1613.91h11.4" stroke="#808080" stroke-width="3" stroke-linecap="round" fill="none"/>
<rect x="654.4" y="1600.09" width="12" height="12" fill="#808080"/>
<path d="M694.04 1593.32V1639.31M688.34 1593.32h11.4M688.34 1639.31h11.4" stroke="#808080" stroke-width="3" stroke-linecap="round" fill="none"/>
<rect x="688.04" y="1610.24" width="12" height="12" fill="#808080"/>
<path d="M727.68 1612.13V1628.05M721.98 1612.13h11.4M721.98 1628.05h11.4" stroke="#808080" stroke-width="3" stroke-linecap="round" fill="none"/>
<rect x="721.68" y="1614.09" width="12" height="12" fill="#808080"/>
<path d="M761.32 1609.52V1630.11M755.62 1609.52h11.4M755.62 1630.11h11.4" stroke="#808080" stroke-width="3" stroke-linecap="round" fill="none"/>
<rect x="755.32" y="1614.09" width="12" height="12" fill="#808080"/>
<path d="M794.96 1592.63V1630.38M789.26 1592.63h11.4M789.26 1630.38h11.4" stroke="#808080" stroke-width="3" stroke-linecap="round" fill="none"/>
<rect x="788.96" y="1605.85" width="12" height="12" fill="#808080"/>
<path d="M593.26 1617.34 L594.53 1617.34 L595.8 1617.34 L597.07 1617.34 L598.34 1617.34 L599.61 1617.34 L600.87 1617.34 L602.14 1617.34 L603.41 1617.34 L604.68 1617.34 L605.95 1617.34 L607.22 1617.34 L608.49 1617.34 L609.76 1617.34 L611.03 1617.34 L612.3 1617.34 L613.57 1617.34 L614.84 1617.34 L616.1 1617.34 L617.37 1617.34 L618.64 1617.34 L619.91 1617.34 L621.18 1617.34 L622.45 1617.34 L623.72 1617.34 L624.99 1617.34 L626.26 1617.34 L627.53 1617.34 L628.8 1617.34 L630.07 1617.34 L631.33 1617.33 L632.6 1617.33 L633.87 1617.32 L635.14 1617.31 L636.41 1617.31 L637.68 1617.3 L638.95 1617.29 L640.22 1617.28 L641.49 1617.26 L642.76 1617.25 L644.03 1617.24 L645.3 1617.23 L646.56 1617.21 L647.83 1617.2 L649.1 1617.18 L650.37 1617.17 L651.64 1617.16 L652.91 1617.14 L654.18 1617.13 L655.45 1617.12 L656.72 1617.1 L657.99 1617.09 L659.26 1617.08 L660.53 1617.07 L661.79 1617.06 L663.06 1617.05 L664.33 1617.04 L665.6 1617.03 L666.87 1617.02 L668.14 1617.01 L669.41 1617 L670.68 1616.99 L671.95 1616.98 L673.22 1616.97 L674.49 1616.96 L675.75 1616.94 L677.02 1616.93 L678.29 1616.92 L679.56 1616.91 L680.83 1616.9 L682.1 1616.89 L683.37 1616.88 L684.64 1616.87 L685.91 1616.86 L687.18 1616.85 L688.45 1616.84 L689.72 1616.83 L690.98 1616.82 L692.25 1616.81 L693.52 1616.8 L694.79 1616.79 L696.06 1616.78 L697.33 1616.77 L698.6 1616.76 L699.87 1616.74 L701.14 1616.73 L702.41 1616.72 L703.68 1616.71 L704.95 1616.7 L706.21 1616.69 L707.48 1616.68 L708.75 1616.66 L710.02 1616.65 L711.29 1616.64 L712.56 1616.63 L713.83 1616.62 L715.1 1616.61 L716.37 1616.6 L717.64 1616.59 L718.91 1616.58 L720.18 1616.57 L721.44 1616.56 L722.71 1616.55 L723.98 1616.54 L725.25 1616.53 L726.52 1616.53 L727.79 1616.52 L729.06 1616.51 L730.33 1616.51 L731.6 1616.5 L732.87 1616.49 L734.14 1616.49 L735.41 1616.48 L736.67 1616.48 L737.94 1616.47 L739.21 1616.47 L740.48 1616.46 L741.75 1616.46 L743.02 1616.45 L744.29 1616.45 L745.56 1616.44 L746.83 1616.44 L748.1 1616.43 L749.37 1616.43 L750.63 1616.42 L751.9 1616.42 L753.17 1616.41 L754.44 1616.41 L755.71 1616.4 L756.98 1616.4 L758.25 1616.39 L759.52 1616.39 L760.79 1616.38 L762.06 1616.38 L763.33 1616.37 L764.6 1616.37 L765.86 1616.36 L767.13 1616.36 L768.4 1616.35 L769.67 1616.35 L770.94 1616.34 L772.21 1616.34 L773.48 1616.33 L774.75 1616.33 L776.02 1616.32 L777.29 1616.32 L778.56 1616.31 L779.83 1616.31 L781.09 1616.3 L782.36 1616.3 L783.63 1616.29 L784.9 1616.29 L786.17 1616.28 L787.44 1616.28 L788.71 1616.27 L789.98 1616.26 L791.25 1616.26 L792.52 1616.25 L793.79 1616.25 L795.06 1616.24" stroke="#808080" stroke-width="3.3" stroke-linecap="round" stroke-linejoin="round" fill="none"/>
</g>
<text transform="translate(526.08 1782.29) scale(1 1.05)" font-size="27.3" text-anchor="end">0</text>
<text transform="translate(526.08 1708.92) scale(1 1.05)" font-size="27.3" text-anchor="end">50</text>
<text transform="translate(526.08 1635.56) scale(1 1.05)" font-size="27.3" text-anchor="end">100</text>
<text transform="translate(526.08 1562.19) scale(1 1.05)" font-size="27.3" text-anchor="end">150</text>
<text transform="translate(547.08 1829.19) scale(1 1.05)" font-size="27.3">10</text>
<text transform="translate(579.65 1820.19) scale(1 1.05)" font-size="18.2">-2</text>
<text transform="translate(602.96 1829.19) scale(1 1.05)" font-size="27.3">10</text>
<text transform="translate(635.53 1820.19) scale(1 1.05)" font-size="18.2">-1</text>
<text transform="translate(661.86 1829.19) scale(1 1.05)" font-size="27.3">10</text>
<text transform="translate(694.43 1820.19) scale(1 1.05)" font-size="18.2">0</text>
<text transform="translate(717.74 1829.19) scale(1 1.05)" font-size="27.3">10</text>
<text transform="translate(750.31 1820.19) scale(1 1.05)" font-size="18.2">1</text>
<text transform="translate(773.61 1829.19) scale(1 1.05)" font-size="27.3">10</text>
<text transform="translate(806.18 1820.19) scale(1 1.05)" font-size="18.2">2</text>
<text transform="translate(569.7 1760.8) scale(1 1.05)" font-size="23.3"><tspan font-style="italic">R</tspan><tspan font-size="15.4" dy="-7.5">2</tspan><tspan dy="7.5">&lt;0.0001</tspan></text>
</g>
<g>
<text transform="translate(1040.49 1530.69) scale(1 1.05)" font-size="27.3" text-anchor="middle" letter-spacing="-0.6">MR78</text>
<path d="M912.5 1549.09V1774.79M888.44 1772.09H1171.87M888.44 1698.72H912.5M888.44 1625.36H912.5M888.44 1551.99H912.5M928.78 1772.09V1795.86M984.65 1772.09V1795.86M1040.53 1772.09V1795.86M1096.4 1772.09V1795.86M1152.28 1772.09V1795.86" stroke="#000" stroke-width="5.8" stroke-linecap="round" fill="none"/>
<path d="M929.35 1698.42H1165.05" stroke="#000" stroke-width="5.5" stroke-linecap="round" stroke-dasharray="0 16.8" fill="none"/>
<g clip-path="url(#cp2_4)">
<path d="M950.44 1596.48V1641.37M944.74 1596.48h11.4M944.74 1641.37h11.4" stroke="#808080" stroke-width="3" stroke-linecap="round" fill="none"/>
<rect x="944.44" y="1612.99" width="12" height="12" fill="#808080"/>
<path d="M984.08 1588.51V1609.52M978.38 1588.51h11.4M978.38 1609.52h11.4" stroke="#808080" stroke-width="3" stroke-linecap="round" fill="none"/>
<rect x="978.08" y="1592.81" width="12" height="12" fill="#808080"/>
<path d="M1017.72 1595.65V1655.5M1012.02 1595.65h11.4M1012.02 1655.5h11.4" stroke="#808080" stroke-width="3" stroke-linecap="round" fill="none"/>
<rect x="1011.72" y="1619.85" width="12" height="12" fill="#808080"/>
<path d="M1051.36 1588.51V1624.62M1045.66 1588.51h11.4M1045.66 1624.62h11.4" stroke="#808080" stroke-width="3" stroke-linecap="round" fill="none"/>
<rect x="1045.36" y="1600.63" width="12" height="12" fill="#808080"/>
<path d="M1085 1625.99V1640.27M1079.3 1625.99h11.4M1079.3 1640.27h11.4" stroke="#808080" stroke-width="3" stroke-linecap="round" fill="none"/>
<rect x="1079" y="1627.13" width="12" height="12" fill="#808080"/>
<path d="M1118.64 1647.95V1670.19M1112.94 1647.95h11.4M1112.94 1670.19h11.4" stroke="#808080" stroke-width="3" stroke-linecap="round" fill="none"/>
<rect x="1112.64" y="1653.21" width="12" height="12" fill="#808080"/>
<rect x="1146.28" y="1681.76" width="12" height="12" fill="#808080"/>
<path d="M950.79 1612.17 L952.06 1612.17 L953.33 1612.18 L954.6 1612.18 L955.87 1612.18 L957.13 1612.18 L958.4 1612.19 L959.67 1612.19 L960.94 1612.19 L962.21 1612.2 L963.48 1612.2 L964.75 1612.2 L966.02 1612.21 L967.29 1612.21 L968.56 1612.22 L969.83 1612.22 L971.1 1612.23 L972.36 1612.23 L973.63 1612.24 L974.9 1612.25 L976.17 1612.25 L977.44 1612.26 L978.71 1612.27 L979.98 1612.28 L981.25 1612.29 L982.52 1612.3 L983.79 1612.31 L985.06 1612.32 L986.33 1612.33 L987.59 1612.34 L988.86 1612.35 L990.13 1612.37 L991.4 1612.38 L992.67 1612.4 L993.94 1612.42 L995.21 1612.43 L996.48 1612.45 L997.75 1612.47 L999.02 1612.49 L1000.29 1612.52 L1001.56 1612.54 L1002.82 1612.57 L1004.09 1612.59 L1005.36 1612.62 L1006.63 1612.65 L1007.9 1612.68 L1009.17 1612.72 L1010.44 1612.76 L1011.71 1612.79 L1012.98 1612.84 L1014.25 1612.88 L1015.52 1612.93 L1016.78 1612.98 L1018.05 1613.03 L1019.32 1613.09 L1020.59 1613.15 L1021.86 1613.21 L1023.13 1613.28 L1024.4 1613.35 L1025.67 1613.42 L1026.94 1613.5 L1028.21 1613.59 L1029.48 1613.68 L1030.75 1613.77 L1032.01 1613.88 L1033.28 1613.98 L1034.55 1614.1 L1035.82 1614.22 L1037.09 1614.35 L1038.36 1614.49 L1039.63 1614.63 L1040.9 1614.78 L1042.17 1614.95 L1043.44 1615.12 L1044.71 1615.3 L1045.98 1615.49 L1047.24 1615.7 L1048.51 1615.91 L1049.78 1616.14 L1051.05 1616.38 L1052.32 1616.64 L1053.59 1616.91 L1054.86 1617.19 L1056.13 1617.49 L1057.4 1617.81 L1058.67 1618.14 L1059.94 1618.5 L1061.21 1618.87 L1062.47 1619.26 L1063.74 1619.67 L1065.01 1620.1 L1066.28 1620.55 L1067.55 1621.03 L1068.82 1621.53 L1070.09 1622.06 L1071.36 1622.61 L1072.63 1623.18 L1073.9 1623.79 L1075.17 1624.42 L1076.44 1625.08 L1077.7 1625.76 L1078.97 1626.48 L1080.24 1627.22 L1081.51 1628 L1082.78 1628.8 L1084.05 1629.64 L1085.32 1630.5 L1086.59 1631.4 L1087.86 1632.32 L1089.13 1633.28 L1090.4 1634.26 L1091.67 1635.27 L1092.93 1636.32 L1094.2 1637.38 L1095.47 1638.48 L1096.74 1639.6 L1098.01 1640.74 L1099.28 1641.9 L1100.55 1643.09 L1101.82 1644.29 L1103.09 1645.51 L1104.36 1646.75 L1105.63 1647.99 L1106.89 1649.25 L1108.16 1650.52 L1109.43 1651.79 L1110.7 1653.06 L1111.97 1654.34 L1113.24 1655.62 L1114.51 1656.89 L1115.78 1658.15 L1117.05 1659.41 L1118.32 1660.65 L1119.59 1661.89 L1120.86 1663.1 L1122.12 1664.31 L1123.39 1665.49 L1124.66 1666.65 L1125.93 1667.79 L1127.2 1668.9 L1128.47 1669.99 L1129.74 1671.06 L1131.01 1672.09 L1132.28 1673.1 L1133.55 1674.08 L1134.82 1675.03 L1136.09 1675.96 L1137.35 1676.85 L1138.62 1677.71 L1139.89 1678.54 L1141.16 1679.34 L1142.43 1680.11 L1143.7 1680.85 L1144.97 1681.56 L1146.24 1682.24 L1147.51 1682.9 L1148.78 1683.52 L1150.05 1684.12 L1151.32 1684.7 L1152.58 1685.24" stroke="#808080" stroke-width="3.3" stroke-linecap="round" stroke-linejoin="round" fill="none"/>
</g>
<text transform="translate(883.6 1782.29) scale(1 1.05)" font-size="27.3" text-anchor="end">0</text>
<text transform="translate(883.6 1708.92) scale(1 1.05)" font-size="27.3" text-anchor="end">50</text>
<text transform="translate(883.6 1635.56) scale(1 1.05)" font-size="27.3" text-anchor="end">100</text>
<text transform="translate(883.6 1562.19) scale(1 1.05)" font-size="27.3" text-anchor="end">150</text>
<text transform="translate(904.4 1829.19) scale(1 1.05)" font-size="27.3">10</text>
<text transform="translate(936.97 1820.19) scale(1 1.05)" font-size="18.2">-2</text>
<text transform="translate(960.28 1829.19) scale(1 1.05)" font-size="27.3">10</text>
<text transform="translate(992.85 1820.19) scale(1 1.05)" font-size="18.2">-1</text>
<text transform="translate(1019.18 1829.19) scale(1 1.05)" font-size="27.3">10</text>
<text transform="translate(1051.75 1820.19) scale(1 1.05)" font-size="18.2">0</text>
<text transform="translate(1075.06 1829.19) scale(1 1.05)" font-size="27.3">10</text>
<text transform="translate(1107.63 1820.19) scale(1 1.05)" font-size="18.2">1</text>
<text transform="translate(1130.93 1829.19) scale(1 1.05)" font-size="27.3">10</text>
<text transform="translate(1163.5 1820.19) scale(1 1.05)" font-size="18.2">2</text>
<text transform="translate(931.5 1760.8) scale(1 1.05)" font-size="23.3"><tspan font-style="italic">R</tspan><tspan font-size="15.4" dy="-7.5">2</tspan><tspan dy="7.5">=0.5375</tspan></text>
</g>
</svg>
</body>
</html>
